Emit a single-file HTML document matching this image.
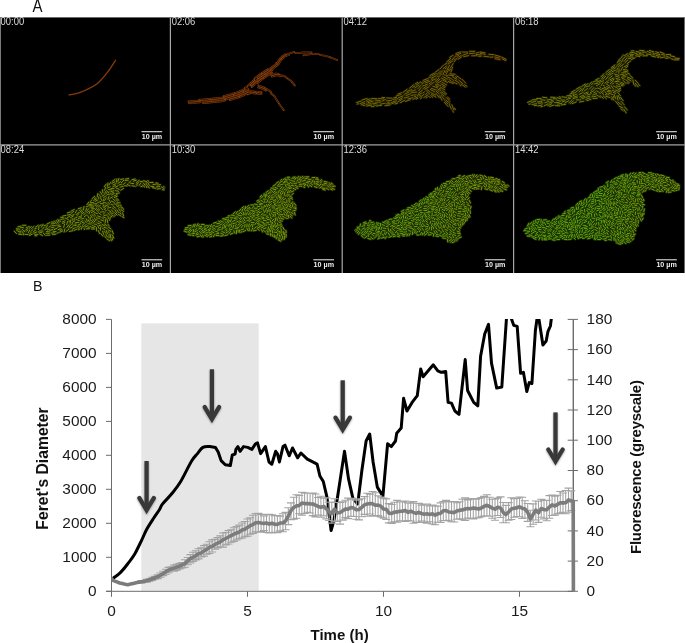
<!DOCTYPE html><html><head><meta charset="utf-8"><title>Figure</title>
<style>html,body{margin:0;padding:0;background:#fff;}svg{display:block;opacity:0.999;}text{font-family:"Liberation Sans",sans-serif;}</style></head><body>
<svg width="685" height="643" viewBox="0 0 685 643">
<rect x="0" y="0" width="685" height="643" fill="#fff"/>
<text transform="translate(32.5,12.2) scale(0.85,1)" font-size="17.6" fill="#111">A</text>
<rect x="0" y="17.3" width="685" height="255.7" fill="#000"/>
<g id="col3" fill="none" stroke-linecap="round">
<path d="M355.8,101.9C357.1,100.9 360.6,99.4 364.6,98.6C368.6,97.9 375.1,97.5 379.7,97.4C384.3,97.2 388.7,98.8 392.2,97.9C395.8,96.9 397.2,94.2 401.0,91.8C404.8,89.4 410.4,86.0 414.8,83.5C419.2,81.1 423.2,79.8 427.4,77.3C431.6,74.8 436.8,71.0 439.9,68.5C443.1,66.0 444.5,64.3 446.2,62.2C447.9,60.1 447.7,57.7 450.0,55.9C452.3,54.2 456.2,52.5 460.0,51.7C463.8,50.8 468.0,50.7 472.6,50.9C477.2,51.1 483.0,52.1 487.6,52.9C492.2,53.7 496.9,54.9 500.2,55.9C503.5,57.0 506.2,58.3 507.2,59.2C508.3,60.0 508.9,61.1 506.5,60.9C504.0,60.8 497.5,59.2 492.7,58.4C487.8,57.7 482.2,56.8 477.6,56.4C473.0,56.1 468.6,55.8 465.0,56.4C461.5,57.0 458.3,58.6 456.2,60.2C454.2,61.8 452.9,63.9 452.5,66.0C452.1,68.1 452.5,70.9 453.7,72.7C455.0,74.6 458.1,75.8 460.0,77.3C461.9,78.8 463.8,80.3 465.0,81.8C466.3,83.2 467.5,85.0 467.5,86.1C467.5,87.1 466.9,88.2 465.0,87.8C463.2,87.4 458.8,84.3 456.2,83.5C453.7,82.8 451.9,82.7 450.0,83.5C448.0,84.4 444.7,86.3 444.4,88.6C444.2,90.9 446.7,93.6 448.7,97.4C450.7,101.1 455.4,108.6 456.2,111.2C457.1,113.8 455.6,114.2 453.7,112.9C451.9,111.7 447.5,106.2 444.9,103.6C442.4,101.0 441.2,98.4 438.7,97.4C436.2,96.3 433.4,97.1 429.9,97.4C426.3,97.6 421.9,98.3 417.3,99.1C412.7,99.9 407.3,101.2 402.3,102.4C397.2,103.5 392.6,105.4 387.2,106.1C381.8,106.9 374.6,107.2 369.6,106.9C364.6,106.6 359.4,105.2 357.1,104.4C354.8,103.5 354.6,102.8 355.8,101.9Z" fill="#161201" stroke="#000" stroke-width="2.6"/>
<defs>
<path id="r3_0" d="M411.6,92.7L416.8,92.0M443.1,68.9L446.9,65.5M423.9,81.8L428.8,80.0M378.5,98.6L383.7,98.9M375.3,102.2L380.5,102.1M365.9,104.2L371.1,103.8M360.1,103.8L364.8,101.6M431.7,80.9L436.3,78.5M398.5,97.7L403.3,95.8M416.4,84.9L420.6,81.9M422.6,86.1L427.5,84.1M432.8,86.1L437.6,88.0M386.7,97.9L391.9,98.2M376.4,106.0L381.6,105.4M392.6,99.3L397.8,98.9M451.9,104.9L453.8,109.7M418.2,93.3L422.4,90.2M429.9,75.6L434.4,73.0M407.9,99.0L412.9,97.6M362.2,99.9L367.1,98.5M404.1,98.1L409.1,96.7M405.9,95.6L410.7,93.7M412.9,99.4L417.6,97.0M417.2,95.5L421.8,92.9M386.4,100.8L391.5,100.4M406.9,91.5L411.7,89.5M409.5,88.2L413.5,84.9M375.2,100.0L380.3,100.7M366.7,101.9L371.5,99.9M462.7,55.3L467.5,53.4M391.3,102.6L396.1,100.6M442.9,74.9L445.0,70.2M380.1,104.2L385.2,103.2M410.9,91.5L415.8,89.8M391.6,103.9L396.4,101.9M414.7,87.9L419.1,85.1M448.2,64.0L452.5,61.2M403.0,92.4L407.1,89.3M444.5,102.5L448.1,106.4M372.1,103.0L377.2,104.0M404.3,94.2L409.1,92.1M366.6,106.1L371.7,105.1M423.8,97.4L428.3,94.7M397.8,101.9L402.3,99.3M440.2,86.9L444.6,89.7M405.5,101.4L410.4,99.7M424.6,89.1L429.2,86.7M371.8,98.5L377.0,98.7M356.5,102.5L361.4,101.0M441.3,91.8L445.6,94.8M437.2,83.4L441.7,80.8M431.6,94.6L436.1,97.2M368.3,102.6L373.3,101.0M418.8,90.7L421.1,87.5M366.4,100.3L370.1,98.7M399.0,99.7L402.4,97.7M361.2,105.0L364.8,103.2M426.9,89.4L429.9,92.0M435.5,72.0L438.8,69.7M415.2,83.9L417.6,82.4M429.0,83.9L431.3,82.4M381.9,97.5L384.7,97.6M412.6,87.3L414.9,85.8M395.1,104.0L397.7,103.1M464.7,84.7L467.0,86.4M371.2,106.6L374.0,106.6M393.8,97.8L396.6,97.3M419.0,96.0L420.5,95.2M423.0,93.0L424.4,92.0M420.6,98.6L422.0,97.5M363.2,105.6L364.9,105.4M429.0,77.6L430.6,77.0M373.6,104.8L375.2,105.4M425.7,94.3L427.0,93.3M426.0,97.9L427.4,97.0M421.1,83.1L422.4,82.1M357.1,104.2L358.7,103.6"/>
<path id="r3_1" d="M400.2,102.7L404.8,100.3M450.0,73.7L455.1,74.3M441.3,78.1L446.0,80.3M425.7,90.3L429.5,93.8M431.4,88.4L436.3,90.0M446.9,61.8L450.7,58.4M449.2,104.4L451.4,109.1M429.7,85.4L433.9,82.3M439.6,95.8L442.1,100.3M431.0,92.7L435.7,95.1M454.1,61.8L457.4,57.8M440.3,92.6L444.1,96.1M425.2,83.0L430.1,81.2M438.3,77.2L442.1,73.5M432.0,76.1L436.4,73.3M417.6,88.9L421.2,85.1M448.6,75.0L453.7,75.7M442.6,90.4L446.5,93.8M446.7,76.6L451.4,78.8M430.3,89.5L434.9,91.9M419.9,97.3L424.1,94.3M396.1,96.1L401.1,94.5M458.8,80.3L462.8,83.6M441.1,95.3L444.3,99.4M446.1,97.5L449.8,101.2M431.4,78.2L436.1,75.9M439.3,74.3L442.9,70.6M435.6,84.5L440.7,85.4M422.8,88.7L427.1,85.8M469.6,51.3L474.8,51.3M385.0,105.7L390.1,105.0M437.1,74.6L440.7,70.8M442.9,80.3L447.6,82.5M411.0,95.4L416.1,94.7M461.1,84.1L465.4,87.1M423.2,80.4L428.0,78.5M451.9,60.0L455.5,56.2M436.1,82.5L440.1,79.1M436.2,93.5L439.2,97.7M448.4,81.6L453.2,83.5M434.9,81.6L438.9,78.3M436.2,91.3L439.2,94.0M444.8,101.0L447.7,103.7M397.8,94.2L401.5,92.7M381.9,101.2L385.5,99.5M449.7,57.4L453.1,55.3M386.3,103.9L390.3,103.7M430.6,95.5L432.8,97.3M448.9,79.5L451.2,81.2M444.6,75.1L447.3,75.3M444.6,64.5L447.0,63.2M435.8,85.8L438.4,86.7M438.0,89.3L440.5,90.5M442.5,86.3L444.9,87.7M422.2,84.0L423.5,83.0M387.8,102.4L389.5,102.1M449.6,70.8L450.4,69.3M414.2,96.8L415.8,96.3M445.5,68.5L446.8,67.5M416.2,99.1L417.8,98.4M454.6,108.2L455.3,109.7M439.4,88.4L441.0,89.0M455.4,76.6L456.7,77.6M431.6,79.5L433.1,78.8M445.5,72.4L446.3,70.9M437.7,90.7L439.1,91.7"/>
<path id="r3_2" d="M456.7,75.9L461.0,78.9M455.7,55.0L460.7,53.5M462.6,52.1L467.8,52.1M442.2,82.4L446.7,85.0M469.3,53.6L474.5,53.2M446.5,73.5L449.0,69.0M471.7,55.8L476.9,55.7M439.9,69.0L443.5,65.2M488.9,54.3L494.1,54.7M476.0,54.4L481.2,54.9M442.9,76.7L447.5,79.1M452.4,81.7L457.1,83.8M450.4,68.0L453.2,63.6M455.1,80.1L459.3,83.2M480.2,52.0L485.3,52.9M450.9,72.2L452.5,67.3M447.1,69.9L449.5,65.3M455.9,53.4L460.9,51.9M440.9,83.7L445.3,86.4M452.5,76.8L457.0,79.4M445.9,100.1L449.9,103.4M458.1,59.2L461.5,57.0M490.2,57.2L493.0,57.0M458.8,57.0L461.2,55.5M476.2,53.1L478.8,52.3M448.5,62.1L450.8,60.6M452.7,110.6L453.4,112.2M453.7,60.0L454.9,58.8M452.6,79.4L453.8,80.6M456.9,56.2L458.5,55.6M436.8,77.0L437.9,75.8M459.7,84.8L461.1,85.7M428.7,96.5L430.2,97.3"/>
<path id="r3_3" d="M483.8,56.3L488.9,56.8M463.7,56.6L468.8,55.6M480.0,53.2L485.1,54.4M462.2,79.4L465.7,83.1M495.3,55.1L500.3,56.6M502.2,58.8L505.7,60.7M478.6,56.3L481.4,56.2M447.6,97.2L449.7,99.1"/>
<path id="r3_4" d="M494.8,56.9L499.9,58.1M501.6,57.1L506.2,59.4M494.9,58.7L500.0,59.7"/>
</defs>
<use href="#r3_0" stroke="#1a1801" stroke-width="2.45"/>
<use href="#r3_1" stroke="#1b1701" stroke-width="2.45"/>
<use href="#r3_2" stroke="#1c1601" stroke-width="2.45"/>
<use href="#r3_3" stroke="#1c1601" stroke-width="2.45"/>
<use href="#r3_4" stroke="#1d1501" stroke-width="2.45"/>
<use href="#r3_0" stroke="#827606" stroke-width="0.85"/>
<use href="#r3_1" stroke="#867206" stroke-width="0.85"/>
<use href="#r3_2" stroke="#8a6f06" stroke-width="0.85"/>
<use href="#r3_3" stroke="#8e6c06" stroke-width="0.85"/>
<use href="#r3_4" stroke="#926806" stroke-width="0.85"/>
</g>
<g id="col4" fill="none" stroke-linecap="round">
<path d="M527.6,102.4C528.4,101.3 531.7,99.5 534.3,98.6C536.9,97.7 539.6,97.1 543.1,96.8C546.7,96.6 551.7,97.6 555.7,97.4C559.7,97.1 564.1,96.5 567.0,95.3C569.9,94.2 570.1,92.3 573.3,90.3C576.4,88.4 581.6,85.5 585.8,83.5C590.0,81.6 594.8,80.6 598.4,78.5C601.9,76.4 604.2,73.5 607.2,71.0C610.1,68.5 613.6,66.0 615.9,63.5C618.3,60.9 618.5,58.0 621.0,55.9C623.5,53.8 627.2,51.9 631.0,50.9C634.8,49.9 639.0,49.6 643.6,49.6C648.2,49.7 654.0,50.6 658.6,51.4C663.2,52.2 667.6,53.0 671.2,54.2C674.7,55.3 678.7,57.3 680.0,58.4C681.2,59.6 681.0,60.9 678.7,60.9C676.4,60.9 670.8,59.1 666.2,58.4C661.6,57.7 655.7,56.9 651.1,56.7C646.5,56.5 642.0,56.3 638.5,57.2C635.1,58.0 632.4,60.0 630.5,61.7C628.6,63.4 627.4,65.3 627.2,67.2C627.1,69.2 628.3,71.4 629.8,73.5C631.2,75.6 634.3,77.7 636.0,79.8C637.8,81.9 639.9,84.6 640.3,86.1C640.7,87.5 640.1,89.1 638.5,88.6C637.0,88.0 633.5,83.2 631.0,82.8C628.5,82.4 625.4,84.5 623.5,86.1C621.6,87.6 619.7,89.8 619.7,92.3C619.7,94.8 622.0,98.0 623.5,101.1C624.9,104.3 628.1,109.1 628.5,111.2C628.9,113.3 627.7,114.5 626.0,113.7C624.3,112.8 620.8,108.4 618.5,106.1C616.2,103.8 615.1,101.2 612.2,99.9C609.3,98.5 605.3,97.6 600.9,97.9C596.5,98.1 590.8,100.1 585.8,101.1C580.8,102.2 575.8,103.2 570.8,104.1C565.7,105.1 560.7,106.2 555.7,106.6C550.7,107.1 545.0,107.2 540.6,106.9C536.2,106.6 531.5,105.6 529.3,104.9C527.1,104.1 526.7,103.4 527.6,102.4Z" fill="#161601" stroke="#000" stroke-width="2.6"/>
<defs>
<path id="r4_0" d="M589.3,89.2L592.4,86.1M612.2,71.6L616.3,70.0M576.4,89.1L580.2,86.9M606.1,83.8L609.7,86.3M593.0,98.6L597.4,98.2M611.7,96.6L614.1,100.3M564.8,103.1L568.6,100.8M585.9,97.4L590.1,96.1M590.9,90.8L593.9,87.5M620.5,97.3L623.2,100.8M597.5,88.0L601.5,89.7M537.8,106.0L542.1,104.9M594.0,84.0L598.3,83.1M557.5,104.1L561.8,103.4M592.6,95.1L596.7,93.5M601.4,78.9L604.1,75.5M628.7,56.8L633.1,57.3M572.2,103.6L576.3,101.9M580.9,97.8L585.1,96.2M549.3,103.0L553.4,101.5M555.2,105.6L559.6,105.8M570.0,94.0L574.2,92.5M532.1,104.5L536.5,103.7M600.5,91.7L603.8,94.6M576.4,99.9L580.8,99.8M584.0,93.7L588.0,91.8M614.2,94.6L615.8,98.7M596.8,90.8L600.3,93.4M608.7,78.7L612.2,76.0M585.6,86.9L589.8,85.8M544.8,102.7L549.0,101.4M615.9,78.2L620.1,79.6M557.2,97.6L561.3,99.1M531.5,102.4L535.7,101.3M579.2,92.1L582.0,88.7M562.1,96.8L566.4,97.4M585.8,99.5L589.9,97.8M613.5,86.0L617.4,88.1M610.3,81.2L614.2,79.2M568.8,102.7L572.1,99.8M542.6,97.2L546.9,97.8M584.1,91.0L587.7,88.5M549.7,106.4L553.9,105.1M591.9,96.9L596.2,96.2M587.2,95.1L591.4,93.7M596.4,85.8L600.2,83.6M627.3,77.0L631.3,78.9M573.1,98.6L577.4,97.6M584.4,86.1L588.1,83.7M609.8,79.8L613.8,77.9M579.1,94.4L583.1,92.5M581.7,86.4L585.3,83.9M579.5,102.1L583.8,101.2M537.3,101.9L541.7,101.6M550.7,97.2L555.1,97.4M532.5,99.8L536.9,99.7M570.1,103.7L573.4,100.8M579.8,96.7L583.9,95.1M554.7,102.6L559.1,102.5M566.8,95.9L571.2,95.3M547.7,105.6L551.7,103.7M571.4,92.1L575.3,90.1M561.2,105.0L565.6,104.3M607.7,75.0L611.3,72.5M575.4,92.5L578.8,89.7M603.2,95.8L606.4,98.7M608.6,93.2L612.8,94.6M596.8,82.1L600.9,80.4M553.2,98.7L556.6,98.9M568.3,97.4L571.6,96.5M562.3,101.9L565.5,100.8M589.3,84.4L591.8,82.1M595.9,79.6L599.1,78.5M622.2,78.6L624.6,79.2M582.4,98.7L584.7,97.8M602.9,90.1L605.1,91.3M593.7,92.7L596.0,91.8M561.8,100.3L564.3,99.8M534.2,105.6L536.7,105.3M585.9,94.2L588.2,93.2M607.2,82.9L608.7,82.2M594.8,89.0L596.3,88.5M572.9,94.5L574.3,93.8M591.5,84.4L592.8,83.5M599.7,86.9L600.9,88.0M579.8,88.9L581.0,87.9"/>
<path id="r4_1" d="M540.8,99.9L545.1,100.2M604.9,83.1L608.4,80.4M605.6,79.6L608.4,76.2M629.7,75.2L632.9,78.2M621.7,72.8L626.1,72.9M607.2,91.6L611.6,92.0M572.9,95.8L576.9,94.0M624.4,106.7L627.3,110.0M556.6,100.2L560.8,101.2M623.1,80.4L626.1,83.6M618.8,73.3L619.2,68.9M617.3,62.9L619.5,59.1M601.0,85.8L603.4,82.1M617.0,95.9L618.0,100.2M593.1,81.9L597.3,80.4M646.4,54.0L650.8,54.6M602.8,79.5L605.7,76.2M615.3,76.0L619.5,77.3M616.6,65.7L620.0,62.9M614.9,81.4L619.3,81.7M547.1,100.0L551.4,99.2M590.4,92.6L594.2,90.4M573.1,97.3L577.3,96.0M614.6,74.1L618.8,75.4M615.9,83.0L619.8,85.0M618.9,106.0L622.8,107.9M536.7,98.5L541.1,98.5M622.0,59.7L625.4,56.8M610.9,69.3L614.5,66.8M608.5,72.5L612.2,70.0M625.9,79.8L629.4,82.6M615.5,89.9L619.5,91.6M600.0,95.5L603.4,98.3M605.5,92.6L609.1,95.1M623.7,109.2L626.2,112.9M616.3,85.8L620.6,86.9M566.4,99.3L570.7,98.3M636.1,51.4L640.4,52.4M538.4,103.3L542.8,102.9M604.1,87.4L608.3,88.8M605.9,72.4L609.3,69.6M609.5,75.3L613.4,73.1M623.6,71.1L627.9,71.9M618.1,66.6L621.2,63.5M624.2,66.8L628.1,64.8M605.8,96.3L610.0,97.5M620.0,83.5L624.1,85.1M602.4,88.4L606.6,89.7M651.3,55.9L655.5,57.0M586.9,100.7L591.0,99.3M620.7,58.3L623.4,54.9M611.1,85.6L613.6,89.1M527.6,102.4L531.7,100.7M581.9,91.2L584.4,87.5M600.8,76.9L603.9,73.8M596.7,94.9L600.3,97.4M599.5,82.4L603.5,80.6M620.1,74.8L623.5,74.2M624.5,55.6L627.4,53.8M620.8,82.3L623.9,83.6M613.4,69.2L616.2,67.3M621.1,62.0L623.1,60.5M550.8,100.9L553.1,100.1M612.0,84.5L614.0,83.0M616.1,72.5L617.8,70.6M618.1,89.5L620.5,90.3M625.6,67.9L627.6,66.5M628.2,58.3L630.7,58.6M630.5,55.6L632.9,55.8M613.2,92.4L615.5,93.4M601.9,91.2L603.2,92.0M603.2,85.2L604.6,86.0M606.2,74.6L607.2,73.3M616.7,79.9L618.2,80.3M528.9,104.2L530.5,104.0M540.9,106.8L542.4,106.3M613.5,96.1L613.9,97.7M621.4,85.4L622.8,86.0M605.5,94.5L606.9,95.2M634.6,85.3L635.9,86.2M617.3,69.3L618.0,67.8"/>
<path id="r4_2" d="M623.5,69.5L627.8,70.2M631.2,59.7L635.1,57.8M632.9,80.0L633.7,84.3M629.0,54.1L633.4,54.5M612.1,90.3L616.2,92.0M620.0,66.8L623.5,64.2M621.5,77.3L625.9,76.7M660.6,57.8L664.9,56.9M630.0,52.8L634.4,52.3M627.0,63.7L630.6,61.1M666.4,56.1L670.3,58.1M624.8,62.9L628.0,59.8M643.0,55.9L647.4,55.7M622.8,75.8L627.0,74.5M618.1,102.1L621.5,104.9M627.3,78.6L631.0,81.0M624.1,61.4L626.9,58.0M610.1,83.8L613.5,81.0M621.2,101.5L624.2,104.8M620.6,70.9L622.8,67.1M639.7,50.4L644.1,50.7M635.2,80.2L638.2,83.4M544.1,105.9L548.0,103.8M635.4,83.4L638.2,86.8M618.2,95.5L620.1,99.4M647.3,51.3L651.2,53.2M635.5,55.8L639.8,56.6M611.4,67.4L615.0,64.9M606.7,86.7L610.8,88.2M615.6,101.3L618.4,104.6M617.6,92.3L620.4,95.8M620.7,108.4L623.1,110.7M634.7,53.6L637.2,53.2M631.2,51.0L633.7,50.7M607.9,90.3L610.4,90.6M611.3,98.5L612.2,99.8M626.8,56.2L628.2,55.5M638.5,84.6L639.9,85.5M619.0,88.4L620.6,88.7M657.3,57.1L658.8,57.5M652.9,54.7L654.5,54.8M559.3,96.8L560.8,97.3M627.8,73.6L629.4,73.8M627.1,82.5L628.2,83.7"/>
<path id="r4_3" d="M636.8,54.6L641.2,55.3M649.5,50.5L653.7,51.8M656.0,55.5L660.3,56.3M641.9,52.1L646.3,52.1M660.1,52.0L664.2,53.6M655.6,53.6L659.9,54.6M674.9,58.2L679.3,58.4M666.1,54.6L670.5,54.5M639.3,53.6L643.6,54.3M674.4,59.9L678.8,59.8M655.7,51.8L658.9,52.8M661.6,54.5L664.9,55.2M665.3,58.1L667.8,58.3M619.7,61.4L620.5,60.1M652.8,52.9L654.3,53.4"/>
<path id="r4_4" d="M670.3,55.8L674.6,56.8M671.7,59.0L673.3,59.3"/>
</defs>
<use href="#r4_0" stroke="#1a1c02" stroke-width="2.45"/>
<use href="#r4_1" stroke="#1b1c02" stroke-width="2.45"/>
<use href="#r4_2" stroke="#1c1b02" stroke-width="2.45"/>
<use href="#r4_3" stroke="#1d1a02" stroke-width="2.45"/>
<use href="#r4_4" stroke="#1e1a02" stroke-width="2.45"/>
<use href="#r4_0" stroke="#808c08" stroke-width="0.85"/>
<use href="#r4_1" stroke="#858a08" stroke-width="0.85"/>
<use href="#r4_2" stroke="#8a8708" stroke-width="0.85"/>
<use href="#r4_3" stroke="#8f8408" stroke-width="0.85"/>
<use href="#r4_4" stroke="#948208" stroke-width="0.85"/>
</g>
<g id="col5" fill="none" stroke-linecap="round">
<path d="M13.1,231.6C13.5,230.6 14.5,228.5 16.3,227.4C18.1,226.2 20.7,225.1 23.9,224.8C27.0,224.6 31.2,226.1 35.2,225.9C39.1,225.6 43.9,224.5 47.7,223.3C51.5,222.2 54.0,221.2 57.8,219.1C61.5,217.0 66.1,212.9 70.3,210.8C74.5,208.7 79.3,208.5 82.9,206.5C86.4,204.6 88.7,201.7 91.6,199.0C94.6,196.3 97.9,192.8 100.4,190.2C102.9,187.6 104.0,185.1 106.7,183.2C109.4,181.2 112.8,179.2 116.8,178.4C120.7,177.6 125.8,178.1 130.6,178.4C135.4,178.7 141.0,179.4 145.6,180.2C150.2,180.9 154.9,182.0 158.2,183.2C161.5,184.3 164.2,186.0 165.2,187.2C166.3,188.4 166.5,189.9 164.5,190.2C162.5,190.5 157.1,189.6 153.2,188.9C149.2,188.3 145.0,186.8 140.6,186.4C136.2,186.0 130.2,185.6 126.8,186.4C123.4,187.3 121.5,189.6 120.0,191.5C118.6,193.3 117.7,195.4 118.0,197.7C118.3,200.0 120.7,202.8 121.8,205.3C122.9,207.7 124.4,210.2 124.8,212.3C125.2,214.4 125.4,217.3 124.3,217.8C123.2,218.3 120.1,215.3 118.0,215.3C115.9,215.3 113.5,216.5 111.7,217.8C110.0,219.2 107.3,221.0 107.5,223.3C107.7,225.6 111.9,229.0 113.0,231.6C114.1,234.3 114.7,237.5 114.2,239.2C113.8,240.8 112.6,242.3 110.5,241.7C108.4,241.0 104.4,237.5 101.7,235.4C99.0,233.3 97.7,230.0 94.2,229.1C90.6,228.2 85.2,229.3 80.4,229.9C75.5,230.4 70.3,231.5 65.3,232.4C60.3,233.3 55.7,234.8 50.2,235.4C44.8,236.0 37.7,235.9 32.6,235.9C27.6,235.9 23.2,235.8 20.1,235.4C16.9,235.0 15.0,234.0 13.8,233.4C12.6,232.8 12.6,232.6 13.1,231.6Z" fill="#171a02" stroke="#000" stroke-width="2.6"/>
<defs>
<path id="r5_0" d="M18.1,231.5L21.4,231.0M100.9,233.6L102.9,236.2M28.3,232.8L29.8,229.8M89.0,213.8L90.2,210.7M84.8,220.5L87.1,222.8M46.6,235.3L49.9,235.1M59.7,232.3L62.6,230.9M75.2,213.0L76.9,210.2M81.3,214.2L84.0,212.3M91.7,214.1L94.0,216.5M45.9,227.9L47.6,225.1M66.0,231.4L68.7,229.4M74.0,230.4L77.1,229.1M51.3,223.9L54.6,223.6M104.6,200.6L106.3,197.7M34.7,234.3L38.0,234.4M90.2,202.8L93.5,202.5M103.1,214.3L105.5,212.1M76.3,219.5L79.4,220.7M38.5,229.7L39.0,226.4M20.3,227.7L23.6,227.7M63.7,227.4L64.5,224.2M78.1,224.9L81.1,223.6M22.7,231.7L23.5,234.9M108.1,229.8L111.0,231.4M78.2,228.4L80.7,226.2M86.2,228.9L89.5,228.7M92.4,225.6L95.5,226.6M72.3,229.2L75.3,227.7M73.0,225.1L76.3,225.5M75.4,222.7L78.7,222.4M44.9,229.8L47.9,228.4M31.5,228.7L33.9,226.4M65.3,218.1L68.3,219.5M33.1,232.0L35.7,230.0M104.0,227.4L107.2,228.2M86.8,211.2L88.8,208.6M76.2,214.6L78.5,212.3M70.1,223.4L70.7,220.1M105.5,219.6L105.3,222.9M25.0,230.4L27.8,228.5M84.3,216.7L86.9,214.7M39.7,230.8L43.0,231.2M49.6,230.7L52.7,229.5M78.5,218.6L81.5,217.2M56.3,220.5L58.1,223.2M91.3,212.5L94.3,211.1M69.5,231.4L72.7,230.7M98.4,221.2L101.3,222.7M45.8,233.2L49.1,233.4M97.6,211.6L100.0,209.4M67.4,212.9L70.5,211.9M41.4,227.2L43.0,224.3M22.6,225.3L25.9,225.3M66.7,224.5L67.7,221.4M80.8,219.2L84.0,218.2M93.6,200.4L96.6,198.9M52.9,231.2L56.2,231.7M85.4,211.3L86.7,208.2M83.5,209.7L84.0,206.4M66.8,227.5L68.8,224.8M68.8,228.0L70.4,225.1M62.2,222.1L65.2,220.7M60.9,219.4L64.2,218.9M86.9,204.7L88.8,202.1M46.5,231.5L49.8,232.0M74.0,218.5L77.0,217.2M92.2,198.5L94.7,196.3M58.0,229.7L61.1,228.6M64.1,232.0L64.9,228.8M16.4,228.7L19.7,229.2M29.3,235.5L32.3,234.2M42.0,229.5L44.2,227.1M81.4,229.2L82.3,226.0M54.1,229.7L57.0,228.2M39.6,233.9L42.5,235.6M71.9,222.6L74.8,221.0M26.3,227.7L29.4,226.5M78.6,217.0L81.7,215.7M24.8,234.3L28.1,234.5M104.0,215.5L107.3,214.9M93.6,203.9L96.9,203.6M98.4,230.5L99.5,233.6M18.5,234.1L21.8,234.5M71.4,210.9L74.3,209.5M78.3,208.7L81.5,207.8M35.6,227.1L38.3,225.2M76.8,215.8L79.2,213.5M85.0,227.1L88.0,225.7M83.5,226.5L86.2,224.6M54.4,221.1L56.3,223.7M91.5,229.0L94.8,229.0M83.5,215.0L85.8,212.7M71.1,213.4L73.7,211.3M17.8,226.9L21.0,226.1M57.8,219.4L59.2,222.3M100.4,207.1L102.5,209.6M98.5,212.7L101.1,214.7M104.6,190.2L105.7,187.1M46.9,224.0L49.9,222.6M80.2,222.3L82.9,220.5M70.2,228.2L73.0,226.5M33.8,233.2L36.9,231.9M22.4,229.4L24.7,231.8M51.1,233.1L54.4,232.8M49.0,227.3L50.8,225.5M47.4,230.0L49.9,229.2M62.5,223.5L64.9,222.5M76.8,227.2L79.0,225.9M71.6,215.4L74.1,214.6M112.0,237.4L112.5,239.9M29.3,228.3L31.3,226.7M59.8,230.7L62.1,229.6M94.0,224.0L96.6,224.4M81.1,212.7L83.0,210.9M60.7,217.3L63.3,217.5M72.2,220.4L72.2,218.5M87.4,212.6L88.7,211.1M26.6,231.2L28.0,229.9M29.6,233.9L31.2,232.9M51.6,222.0L53.5,222.1M34.7,228.9L36.4,228.2M57.1,233.3L58.3,232.7M73.5,220.0L74.8,219.7M94.5,198.6L95.6,197.9M74.9,224.0L76.2,224.1M91.7,210.5L92.9,210.1M82.4,222.4L83.6,222.2M39.9,225.4L41.2,225.0M19.6,232.9L20.9,232.9"/>
<path id="r5_1" d="M96.4,217.8L99.7,218.4M111.9,183.3L114.9,181.9M114.4,197.5L117.4,196.1M109.1,234.5L109.0,237.8M121.4,182.7L123.7,180.3M56.7,225.2L60.0,225.1M91.5,220.3L93.6,222.8M109.8,198.4L112.7,196.8M88.1,219.6L89.7,222.5M120.8,205.0L121.3,208.3M107.1,219.4L107.8,222.7M97.7,202.5L100.9,201.5M51.0,227.2L54.2,228.0M110.7,191.8L113.8,190.7M110.8,234.3L110.3,237.6M107.9,199.3L109.0,196.2M109.1,199.7L110.6,202.6M107.8,202.1L110.0,204.6M100.7,219.8L103.8,221.0M105.3,205.0L108.3,206.4M103.0,192.9L102.4,189.7M90.3,217.3L90.1,220.6M96.1,207.1L98.6,204.9M107.7,208.1L110.9,207.3M98.8,225.4L102.0,226.2M107.2,194.6L110.5,193.9M111.4,195.0L114.3,193.5M97.2,196.8L97.8,193.5M110.3,217.0L109.7,220.3M108.3,227.1L111.0,228.9M113.2,206.4L115.9,208.3M67.4,215.0L70.6,214.6M79.8,212.3L82.0,209.8M90.6,205.6L93.9,206.1M96.5,210.6L99.0,208.4M106.2,230.6L107.4,233.7M30.6,231.8L33.0,229.5M112.9,198.9L115.4,201.1M104.7,193.2L106.5,190.5M38.4,231.9L41.6,232.6M108.6,189.5L111.8,190.0M102.8,206.7L105.5,208.5M96.5,227.6L96.6,230.9M57.7,227.0L60.9,226.4M94.3,212.6L97.4,213.7M109.8,212.8L113.0,213.4M102.0,194.6L100.2,191.8M102.2,228.1L104.9,229.9M14.1,231.2L16.5,233.5M116.8,202.8L120.1,202.8M105.9,234.0L107.3,236.9M82.6,224.8L85.1,222.6M70.5,217.7L73.4,216.1M116.4,182.1L116.9,178.9M107.8,212.8L109.9,215.3M110.8,188.6L114.1,188.6M88.1,223.8L91.4,224.1M118.3,214.2L121.0,216.1M87.9,227.5L91.0,226.5M52.5,234.5L55.8,234.2M111.6,214.7L114.2,216.6M104.3,186.7L106.2,184.1M120.0,187.1L123.2,186.4M97.6,215.9L100.7,217.0M94.4,217.9L95.9,220.9M91.3,208.9L94.5,208.6M115.1,187.2L118.1,185.8M112.5,235.1L113.7,238.2M107.8,209.9L110.7,211.7M114.8,212.8L117.1,215.2M52.2,225.7L55.5,225.7M62.7,216.1L66.0,215.4M88.9,204.4L92.2,204.2M93.6,213.7L95.7,216.2M86.2,206.8L89.3,205.6M103.2,216.8L106.2,218.2M120.7,190.2L123.5,188.4M112.3,181.3L115.0,179.4M106.9,238.9L109.6,240.7M90.5,215.1L92.3,217.9M67.4,217.7L70.2,215.9M120.9,209.7L123.7,211.4M116.1,193.5L119.4,193.0M107.5,186.3L108.0,183.1M128.4,183.3L130.8,180.9M113.9,204.0L117.2,204.1M86.0,218.6L87.6,221.4M105.8,193.9L107.9,191.3M98.1,207.4L100.4,205.1M103.1,205.3L106.0,207.0M114.0,196.0L117.0,194.7M43.2,232.9L45.2,235.4M101.9,217.6L103.9,219.2M104.5,235.8L106.1,237.9M124.6,185.8L127.2,185.9M103.9,209.4L106.3,210.6M112.2,207.8L114.2,209.4M100.5,227.6L100.6,230.2M87.8,215.6L88.8,218.0M102.3,196.2L104.4,194.7M119.2,184.9L121.7,184.1M91.7,227.6L94.3,227.8M107.7,224.0L109.3,226.1M103.9,231.4L105.5,232.4M108.2,231.5L109.3,233.0M43.9,225.6L45.8,225.2M111.3,204.3L113.0,205.1M95.2,209.7L96.7,208.5M90.6,201.4L91.7,199.9M103.2,200.8L103.9,199.0M34.9,235.7L36.8,235.8M59.6,219.9L60.6,221.5M156.1,182.8L158.0,183.3M78.4,229.8L80.1,228.9M96.5,219.2L97.3,220.1M79.3,210.6L80.2,209.7M71.6,224.4L72.7,223.6M108.3,192.8L109.3,191.9M98.7,198.4L98.6,197.1M84.4,229.5L84.0,228.3M91.0,222.4L92.1,223.1M16.5,230.1L17.8,230.2M140.7,186.3L142.0,186.6M69.1,221.8L69.2,220.6M95.1,205.3L96.4,205.0"/>
<path id="r5_2" d="M100.5,212.0L103.8,211.8M115.3,190.6L118.5,191.3M125.0,180.5L128.3,180.3M130.5,183.2L133.7,183.6M112.7,186.9L115.6,185.3M101.9,200.4L100.2,197.7M109.0,185.0L110.8,182.2M118.6,208.6L120.4,211.3M111.4,201.0L114.3,202.5M122.8,184.8L125.3,182.7M136.1,184.4L138.8,182.5M101.2,196.9L99.0,194.5M102.6,231.3L103.6,234.4M150.6,186.3L153.9,186.6M115.1,210.2L116.9,213.0M127.2,184.4L130.1,185.9M116.2,188.1L119.2,189.4M133.3,181.1L136.4,180.2M97.6,225.7L99.2,228.6M100.4,203.5L103.7,203.9M116.5,205.8L119.4,207.3M111.3,209.7L113.5,212.2M97.0,222.8L100.1,224.0M103.6,197.6L106.3,195.7M117.8,183.6L120.5,181.7M131.9,185.7L135.1,186.4M95.1,201.4L98.0,199.9M92.8,219.3L94.8,221.9M147.5,185.1L149.1,188.0M116.8,209.8L118.7,212.5M122.6,212.8L123.6,216.0M104.5,224.0L107.2,225.9M112.2,230.7L113.3,233.8M103.2,202.3L106.4,203.1M125.5,179.1L128.7,178.4M116.5,198.2L118.9,200.3M89.8,207.0L93.1,207.4M117.8,181.7L118.9,178.6M113.0,184.9L116.0,183.6M102.2,224.4L105.0,226.0M108.0,216.1L108.3,218.7M115.8,199.5L117.7,201.2M122.3,216.7L124.0,217.7M122.6,207.6L123.5,209.3M110.7,239.0L111.4,240.8M147.7,180.7L148.8,181.3M107.4,203.9L108.2,205.0M114.3,214.7L115.3,215.4M111.2,216.0L111.9,217.1M118.0,205.1L119.3,205.2M136.6,185.8L137.6,184.9"/>
<path id="r5_3" d="M161.5,187.0L164.3,188.7M156.4,187.0L159.7,186.6M143.3,182.8L145.2,185.5M147.7,182.4L149.4,185.3M120.6,179.4L123.8,178.9M149.9,182.5L153.2,182.4M107.2,188.2L110.1,186.7M143.5,180.7L146.7,181.6M139.0,185.5L141.0,182.9M152.9,184.5L156.2,184.1M142.2,185.0L144.7,187.0M132.0,179.6L135.2,179.0M157.1,189.1L160.4,188.5M136.5,182.5L139.0,180.4M152.5,187.7L155.7,188.3M139.9,181.3L142.5,181.6M120.0,212.6L121.1,214.2M146.1,182.7L146.3,184.6M111.8,193.1L113.5,192.3M162.3,189.7L164.1,190.0M163.6,186.3L164.5,187.2M146.4,186.3L146.8,187.6"/>
<path id="r5_4" d="M157.2,185.0L160.5,184.7"/>
</defs>
<use href="#r5_0" stroke="#1a2102" stroke-width="2.45"/>
<use href="#r5_1" stroke="#1b2002" stroke-width="2.45"/>
<use href="#r5_2" stroke="#1c2002" stroke-width="2.45"/>
<use href="#r5_3" stroke="#1d2002" stroke-width="2.45"/>
<use href="#r5_4" stroke="#1e1f02" stroke-width="2.45"/>
<use href="#r5_0" stroke="#84a40c" stroke-width="0.85"/>
<use href="#r5_1" stroke="#89a20b" stroke-width="0.85"/>
<use href="#r5_2" stroke="#8ea00a" stroke-width="0.85"/>
<use href="#r5_3" stroke="#939e09" stroke-width="0.85"/>
<use href="#r5_4" stroke="#989c08" stroke-width="0.85"/>
</g>
<g id="col6" fill="none" stroke-linecap="round">
<path d="M182.3,231.6C181.9,230.1 183.8,227.2 186.1,225.9C188.4,224.5 192.3,223.5 196.1,223.3C199.9,223.2 204.7,225.4 208.7,224.8C212.6,224.3 216.2,222.1 220.0,220.3C223.7,218.5 227.3,216.4 231.3,214.1C235.2,211.7 240.1,208.2 243.8,206.5C247.6,204.8 250.9,205.9 253.9,204.0C256.8,202.1 258.5,197.9 261.4,195.2C264.3,192.5 268.9,190.0 271.4,187.7C273.9,185.4 273.7,183.2 276.5,181.4C279.2,179.6 283.6,177.8 287.8,176.9C291.9,176.0 296.8,175.8 301.6,175.9C306.4,176.0 312.0,176.7 316.6,177.6C321.2,178.6 325.9,179.9 329.2,181.4C332.5,182.9 335.4,185.0 336.2,186.4C337.1,187.9 336.2,189.6 334.2,190.2C332.2,190.8 327.9,190.7 324.2,190.2C320.4,189.7 315.8,187.6 311.6,187.2C307.4,186.8 302.1,186.8 299.1,187.7C296.0,188.6 294.6,190.6 293.5,192.7C292.5,194.8 292.3,197.9 292.8,200.2C293.3,202.5 295.9,204.2 296.5,206.5C297.2,208.8 297.4,212.1 296.5,214.1C295.7,216.0 293.6,217.5 291.5,218.3C289.4,219.2 285.8,218.2 284.0,219.1C282.2,219.9 280.6,221.5 281.0,223.3C281.4,225.2 285.6,227.9 286.5,230.4C287.4,232.8 287.5,235.9 286.5,237.9C285.5,239.9 282.7,242.6 280.2,242.4C277.7,242.2 275.0,238.7 271.4,236.6C267.9,234.6 263.1,231.2 258.9,230.4C254.7,229.5 250.9,230.9 246.3,231.6C241.7,232.4 236.3,234.1 231.3,234.9C226.2,235.7 221.6,236.2 216.2,236.6C210.8,237.1 203.2,237.7 198.6,237.4C194.0,237.1 191.3,235.9 188.6,234.9C185.9,233.9 182.7,233.1 182.3,231.6Z" fill="#1e2602" stroke="#000" stroke-width="2.6"/>
<defs>
<path id="r6_0" d="M218.0,228.2L220.7,227.1M250.8,204.9L253.7,205.0M250.5,210.9L253.4,210.2M266.1,223.0L268.9,222.2M194.7,231.8L197.4,230.6M225.0,230.3L227.1,228.4M201.6,231.8L204.3,232.8M204.3,229.3L206.8,230.7M228.7,233.7L230.6,231.5M251.9,208.6L253.8,206.4M233.4,223.6L236.2,222.8M264.5,212.5L263.5,209.7M239.0,211.1L241.0,209.0M216.8,223.7L219.6,223.3M225.4,227.8L226.2,225.0M232.7,221.4L235.4,220.2M250.0,226.6L251.7,224.2M279.3,210.4L281.6,212.1M244.1,217.1L246.6,218.5M239.1,220.9L241.8,222.1M253.9,228.8L256.1,226.9M217.4,230.1L220.3,229.7M208.0,229.7L210.6,228.3M194.5,227.1L195.2,224.3M229.1,230.1L232.0,229.4M248.8,221.6L251.4,220.2M215.9,233.9L218.8,233.5M263.5,230.4L265.8,232.2M243.2,218.0L244.6,220.6M241.2,227.7L243.0,225.3M184.2,231.1L186.9,232.2M261.2,200.3L263.5,202.1M227.3,221.6L228.5,219.0M206.2,234.5L209.0,235.4M249.7,230.5L249.0,227.6M277.3,185.9L280.1,186.3M221.9,231.5L224.5,232.6M200.0,234.5L201.7,236.9M193.1,232.4L193.7,229.5M252.5,214.1L255.0,212.7M223.9,228.3L224.5,225.5M238.0,225.0L240.3,223.2M246.8,226.8L247.1,223.9M258.9,212.9L261.5,211.8M260.5,198.1L262.9,196.4M244.6,227.3L245.1,224.4M230.2,222.0L231.4,219.4M211.4,231.3L213.9,232.8M211.9,226.5L214.6,225.4M188.9,229.2L191.1,227.3M248.3,214.7L250.1,212.4M263.4,220.4L266.3,220.7M195.8,235.1L198.5,234.0M225.8,217.9L228.6,217.2M230.4,217.8L233.3,217.8M272.7,228.7L275.2,230.1M199.0,227.0L201.8,226.3M265.3,206.8L266.8,204.3M267.0,213.0L267.5,210.2M200.8,230.0L203.1,228.2M278.7,202.9L281.2,201.4M240.8,230.0L243.6,229.0M269.8,212.0L270.5,209.2M248.3,226.4L249.6,223.8M258.0,209.7L260.6,208.4M185.3,227.9L188.2,227.4M260.9,216.9L263.7,217.4M257.1,228.5L259.3,230.4M264.1,225.2L267.0,225.0M188.1,234.6L190.9,235.3M243.3,231.7L245.8,230.3M243.3,215.1L243.4,212.2M251.5,230.9L252.7,228.3M233.1,213.9L235.3,211.9M246.0,215.2L247.3,212.6M287.4,196.5L289.2,194.2M187.9,231.2L189.8,233.4M260.7,221.8L263.5,222.5M223.8,219.9L226.7,219.4M232.9,228.1L233.7,225.3M229.3,227.1L227.5,224.8M192.6,227.1L193.8,224.4M196.6,226.3L197.9,223.7M274.4,224.7L275.5,227.4M209.3,233.9L212.0,235.1M235.7,226.9L238.6,227.5M243.0,223.4L245.6,222.0M212.8,227.7L215.3,229.2M220.7,220.9L223.3,222.2M279.2,234.6L280.2,237.3M249.6,215.1L251.6,213.0M188.2,225.7L191.1,225.4M248.9,211.5L246.4,210.0M254.7,204.0L257.5,204.9M295.1,185.2L297.6,186.7M254.3,208.2L257.2,208.2M278.6,221.7L281.1,223.2M282.8,201.8L285.6,202.4M261.0,215.0L263.2,213.3M209.2,232.2L211.9,233.3M213.5,223.2L216.3,222.3M231.8,227.0L230.7,224.3M215.4,227.0L218.2,226.0M238.7,217.8L240.8,219.8M272.3,230.1L272.6,233.0M207.5,227.6L209.2,225.2M238.6,215.6L241.5,215.7M220.3,236.0L223.1,235.7M190.0,231.7L192.3,229.9M256.6,220.7L259.0,222.3M267.3,206.9L268.6,204.3M261.9,209.3L262.0,206.4M252.6,212.0L255.3,210.8M248.3,230.8L246.9,228.2M252.4,227.0L253.1,224.1M239.3,229.7L239.9,232.6M224.7,235.6L227.5,234.9M274.2,204.4L276.7,205.8M212.1,229.0L214.4,230.8M230.4,234.3L233.1,233.1M258.4,218.2L261.2,219.2M225.9,233.1L228.3,231.5M246.7,207.5L248.7,205.4M219.5,225.3L222.0,223.8M202.5,230.5L205.2,231.6M195.0,230.2L197.0,228.2M251.2,222.4L254.1,222.5M228.1,223.0L229.4,220.4M236.1,214.0L237.4,211.5M234.5,218.5L237.3,219.1M222.0,229.9L222.4,227.0M246.8,220.7L249.5,219.7M239.2,226.3L241.5,224.5M252.9,215.3L255.2,215.0M184.9,229.6L187.1,229.3M205.7,233.1L208.0,232.6M242.0,211.5L242.5,209.3M202.7,234.8L203.2,237.1M255.1,218.1L257.3,217.6M197.1,236.8L199.3,236.4M264.1,195.9L264.1,193.6M240.5,217.2L242.0,218.9M256.9,201.0L259.0,199.9M208.4,231.0L210.4,229.9M266.7,196.0L266.8,193.7M189.3,230.7L190.9,229.1M218.5,221.1L220.5,222.2M236.9,221.3L239.0,222.3M204.3,227.9L206.4,228.8M271.2,213.4L272.5,214.6M244.9,214.5L245.2,212.8M242.1,207.7L243.6,206.8M196.2,233.4L197.8,232.6M226.7,223.1L225.5,221.7M235.1,225.7L236.4,224.4M257.3,223.7L259.1,223.7M198.2,226.0L199.4,224.6M266.2,216.4L267.9,215.9M209.8,236.9L211.6,236.6M228.2,215.9L230.0,215.8M262.4,218.7L264.2,218.7M257.2,213.9L258.9,214.6M238.1,230.4L238.2,232.1M222.6,218.9L224.3,218.4M276.2,208.4L278.0,208.6M273.1,225.4L273.8,227.1M229.6,225.3L229.2,224.1M268.7,211.0L269.1,209.8M281.5,191.5L280.8,190.4M284.6,211.8L285.7,212.4M232.0,224.1L231.9,222.8M241.3,232.4L242.0,231.3"/>
<path id="r6_1" d="M274.2,214.1L272.8,216.7M283.9,203.9L285.8,206.1M280.8,218.3L283.6,219.1M269.3,213.5L270.6,216.1M216.1,235.5L219.0,235.6M277.5,237.1L279.7,239.1M281.0,228.5L281.4,231.3M234.8,217.2L237.7,216.9M274.0,219.0L271.9,221.1M273.0,212.7L275.9,212.3M298.1,182.3L301.0,181.9M291.2,185.4L294.0,185.9M265.3,197.6L265.4,194.7M268.5,226.8L267.9,229.6M272.0,207.9L274.9,208.0M236.5,230.5L236.5,233.4M199.4,231.4L201.3,233.6M282.6,193.7L283.2,190.9M258.1,225.2L260.9,224.7M270.3,233.0L270.8,235.8M279.0,233.0L281.9,232.8M234.9,228.6L237.8,228.9M286.9,182.7L289.6,183.7M286.6,210.3L287.8,213.0M245.3,211.1L243.9,208.5M242.1,214.2L240.1,212.0M291.6,180.7L294.4,181.5M269.7,228.8L268.9,231.6M273.3,189.7L276.1,189.5M266.8,230.3L268.1,232.9M257.2,219.2L259.6,220.8M261.3,229.4L262.6,232.0M237.2,214.9L239.6,213.4M266.8,202.4L267.9,199.7M251.7,217.8L254.3,216.5M277.9,207.2L280.8,206.9M260.0,203.0L262.8,203.9M279.3,209.0L282.2,209.4M278.2,192.6L279.5,190.0M204.5,226.2L207.3,225.5M275.6,218.0L275.5,220.9M191.6,233.9L194.5,233.5M270.3,189.7L272.6,191.5M252.7,218.9L255.3,220.2M273.2,200.8L275.8,199.5M220.8,233.3L223.5,234.4M265.9,218.4L268.6,217.3M288.3,203.8L287.6,206.6M222.6,225.3L224.9,223.6M290.0,213.9L292.3,215.8M204.7,235.3L207.3,236.6M273.2,202.2L275.6,203.8M281.7,199.3L283.5,197.1M254.7,224.8L256.5,222.5M277.3,223.1L278.1,225.8M257.6,202.5L260.1,201.0M257.3,206.8L260.1,206.1M270.6,226.3L271.3,229.2M256.5,215.2L259.1,216.5M269.3,205.8L271.4,203.8M282.0,215.9L284.5,217.4M263.5,228.8L266.2,227.8M269.3,203.1L271.6,201.4M285.5,191.1L287.6,189.1M247.3,208.9L249.7,207.2M285.2,184.5L286.4,187.1M278.2,239.8L280.8,241.1M310.4,183.1L312.6,184.9M263.7,208.1L264.4,205.3M273.1,192.7L275.4,191.0M210.1,227.0L211.5,224.5M274.9,209.9L277.8,210.1M278.2,197.1L278.3,194.2M270.3,220.5L271.2,223.3M280.5,184.8L283.3,184.1M282.0,204.6L283.8,206.9M284.4,181.4L287.3,181.0M268.2,193.9L270.0,191.6M271.7,205.9L274.6,206.1M271.9,234.2L273.2,236.7M273.0,186.1L275.5,184.6M263.0,215.1L265.9,214.9M276.7,229.5L278.6,227.3M277.8,205.1L280.7,205.1M288.4,215.1L288.7,218.0M274.9,187.3L277.6,188.4M215.6,231.3L218.3,232.3M231.4,215.1L234.3,215.5M282.5,236.1L282.8,238.9M274.5,193.6L276.9,192.0M271.6,212.0L273.5,209.9M263.3,199.1L266.2,199.2M265.9,192.5L268.3,190.8M259.7,226.5L262.4,225.5M294.1,203.1L295.8,205.4M233.8,230.6L235.0,233.2M256.7,212.6L259.2,211.1M247.3,217.1L249.9,218.4M201.3,224.4L204.2,224.5M276.9,203.1L278.4,200.6M282.2,189.6L284.0,187.4M261.4,227.8L264.0,226.5M283.4,210.6L286.0,209.2M304.7,178.9L307.5,178.2M277.1,211.3L279.5,213.0M276.1,183.4L278.5,181.7M274.1,234.6L274.8,237.4M271.6,224.6L272.2,227.5M265.6,211.2L266.4,208.4M257.3,227.0L260.0,228.1M267.3,219.7L270.1,219.2M281.4,194.9L280.2,192.2M283.3,231.3L283.4,234.2M288.4,200.7L290.2,202.9M275.8,213.8L274.9,216.6M274.9,195.8L276.9,193.7M198.6,229.1L201.2,227.9M281.9,208.0L284.8,208.2M253.5,230.8L256.3,230.2M284.5,236.5L284.2,239.4M277.7,233.6L277.1,235.8M259.3,204.1L261.5,204.8M268.3,208.5L270.1,207.0M213.6,236.6L214.6,234.5M287.3,177.3L289.6,177.2M279.2,225.1L281.5,224.8M266.6,233.9L268.9,234.4M245.4,208.7L245.4,206.4M260.1,196.8L261.7,195.2M268.2,224.0L270.3,224.9M268.7,198.4L270.1,196.6M275.9,224.9L277.0,226.9M293.6,178.7L295.0,176.9M280.0,220.7L282.3,221.1M278.1,229.9L277.1,231.4M250.0,216.6L251.7,215.9M283.4,182.8L285.2,182.7M270.2,217.5L271.8,218.4M249.0,209.4L250.4,208.4M272.4,222.3L272.9,224.0M285.3,179.9L287.1,179.5M264.9,202.6L264.7,200.8M278.3,184.6L279.8,183.6M256.1,209.8L257.0,210.8M229.4,228.7L230.4,227.8M268.5,202.0L269.5,201.1M278.7,231.4L280.0,231.5M192.7,235.5L193.9,235.7M226.1,231.1L227.1,230.3M281.6,234.4L281.2,235.7M274.9,201.4L276.1,200.9M300.8,180.7L301.2,179.4M303.6,187.0L304.8,187.4M242.4,220.6L243.2,221.6M270.7,230.4L270.6,231.7M279.7,199.4L280.6,200.3"/>
<path id="r6_2" d="M291.0,192.0L293.6,190.8M293.5,207.8L296.2,208.8M279.8,182.4L282.4,181.1M267.9,197.2L269.8,195.0M287.9,178.6L290.3,180.3M292.7,201.8L291.0,204.1M314.4,186.6L317.2,187.6M286.7,199.9L287.0,202.8M288.8,188.7L291.6,187.9M293.0,188.2L295.6,189.6M288.1,209.0L290.9,209.5M299.6,179.8L300.5,177.0M307.1,184.6L308.5,187.1M271.4,197.4L274.3,197.0M324.2,181.5L327.1,182.0M294.7,179.9L296.2,177.5M273.9,232.1L276.8,232.6M289.7,198.1L292.4,199.2M285.4,196.1L287.5,194.2M307.3,181.2L310.1,181.5M299.3,184.3L302.2,184.2M296.9,181.3L298.5,179.0M322.0,188.1L324.9,188.3M283.8,213.1L285.2,215.6M279.3,198.1L280.0,195.3M285.0,232.4L284.5,235.2M282.9,227.3L284.3,229.8M275.8,236.0L276.4,238.8M288.9,192.8L290.5,190.4M290.8,212.2L293.3,213.8M270.2,199.2L273.1,199.1M280.3,188.8L282.3,186.7M293.7,183.3L296.6,183.2M302.5,181.1L305.3,180.3M315.8,181.9L318.6,181.0M302.5,178.8L304.5,176.7M279.8,214.3L282.7,214.5M291.4,195.3L293.3,193.2M291.5,178.9L293.5,176.8M303.3,183.4L304.7,185.9M277.1,213.0L278.8,215.3M309.3,185.0L311.7,186.6M288.3,198.4L290.0,200.7M278.3,216.8L279.8,219.3M322.1,184.7L325.0,185.1M283.2,179.8L285.6,178.1M277.5,199.1L276.1,196.5M289.9,215.8L291.7,218.1M274.1,220.9L275.4,223.5M319.7,187.9L322.2,186.3M286.1,234.3L286.0,237.2M289.3,206.5L291.8,207.9M294.4,212.2L295.2,215.0M293.0,203.8L292.4,206.6M289.5,196.1L292.1,197.4M282.9,200.1L285.4,198.6M271.0,188.2L273.9,188.2M313.1,180.0L311.8,182.6M287.8,187.5L290.6,186.7M271.4,195.8L273.3,194.5M287.3,192.8L288.4,190.8M297.4,178.3L298.7,176.4M304.6,183.1L305.8,185.0M280.6,198.5L281.1,196.2M280.1,227.3L282.0,226.0M323.0,189.5L325.3,190.0M285.6,218.0L287.3,218.5M284.4,189.6L286.0,188.6M288.3,210.9L289.4,212.4M285.8,230.5L286.4,232.2M263.0,223.8L264.8,223.8M270.3,193.4L271.1,192.4M294.8,206.8L296.0,207.4M280.7,180.3L281.6,179.4M289.7,204.9L290.8,205.6M285.8,203.9L286.7,204.8M280.1,215.9L280.7,217.1M281.2,238.9L281.8,240.0M281.4,203.2L282.7,203.3M285.9,207.5L287.2,207.9"/>
<path id="r6_3" d="M306.0,182.4L308.8,183.1M314.3,181.2L314.2,184.1M327.0,185.5L329.3,187.2M308.4,179.2L311.2,179.8M276.9,217.8L277.4,220.6M329.1,182.7L331.1,184.8M292.8,210.9L295.7,210.2M326.1,187.9L328.5,189.6M315.6,179.2L318.5,179.3M315.7,183.8L318.3,182.6M318.7,186.3L320.8,184.2M286.7,184.7L289.6,185.3M332.1,186.3L335.0,186.2M331.9,188.1L334.5,189.4M299.0,186.1L301.9,186.3M320.0,183.3L322.1,181.3M284.2,195.4L284.8,192.5M312.1,177.6L315.0,177.5M286.7,213.5L287.1,216.3M305.9,176.9L308.8,176.8M328.9,184.4L330.9,186.6M290.1,182.2L292.5,183.9M330.3,188.9L332.3,190.0M320.0,181.4L321.5,179.6M316.4,185.0L318.6,184.4M295.7,187.7L298.0,188.3M316.4,177.9L317.7,178.0M301.8,177.3L302.6,176.4"/>
<path id="r6_4" d="M324.0,183.2L326.8,183.8M331.2,182.9L333.0,184.4"/>
</defs>
<use href="#r6_0" stroke="#223103" stroke-width="2.45"/>
<use href="#r6_1" stroke="#243003" stroke-width="2.45"/>
<use href="#r6_2" stroke="#263003" stroke-width="2.45"/>
<use href="#r6_3" stroke="#272f03" stroke-width="2.45"/>
<use href="#r6_4" stroke="#292e02" stroke-width="2.45"/>
<use href="#r6_0" stroke="#7ab00c" stroke-width="0.85"/>
<use href="#r6_1" stroke="#80ad0b" stroke-width="0.85"/>
<use href="#r6_2" stroke="#86aa0a" stroke-width="0.85"/>
<use href="#r6_3" stroke="#8ca709" stroke-width="0.85"/>
<use href="#r6_4" stroke="#92a408" stroke-width="0.85"/>
</g>
<g id="col7" fill="none" stroke-linecap="round">
<path d="M354.1,231.6C353.8,229.7 355.7,226.7 358.3,224.8C360.9,223.0 366.1,220.6 369.6,220.3C373.2,220.1 376.3,223.6 379.7,223.3C383.0,223.1 385.9,221.2 389.7,219.1C393.5,217.0 398.1,213.4 402.3,210.8C406.4,208.2 411.1,205.4 414.8,203.3C418.6,201.1 421.5,200.1 424.9,197.7C428.2,195.3 431.1,191.9 434.9,188.9C438.7,186.0 443.5,182.4 447.5,180.2C451.4,177.9 454.6,176.6 458.8,175.6C462.9,174.7 467.8,174.3 472.6,174.4C477.4,174.4 483.0,175.0 487.6,175.9C492.2,176.8 496.6,178.0 500.2,179.7C503.7,181.3 507.9,183.8 509.0,185.7C510.0,187.5 508.4,189.6 506.5,190.7C504.6,191.8 501.2,192.4 497.7,192.2C494.1,192.0 489.3,190.1 485.1,189.7C480.9,189.3 475.3,188.8 472.6,189.7C469.8,190.6 469.0,192.6 468.8,195.2C468.6,197.8 471.0,201.7 471.3,205.3C471.6,208.8 472.0,213.2 470.6,216.6C469.1,219.9 464.3,223.0 462.5,225.4C460.8,227.7 460.1,228.5 460.0,230.4C459.9,232.3 462.4,234.8 462.0,236.6C461.6,238.5 459.5,240.5 457.5,241.7C455.5,242.8 452.5,244.0 450.0,243.4C447.5,242.9 445.8,239.7 442.4,238.4C439.1,237.1 434.5,236.0 429.9,235.4C425.3,234.8 419.4,234.7 414.8,234.9C410.2,235.1 406.9,236.1 402.3,236.6C397.7,237.2 392.6,237.9 387.2,238.4C381.8,239.0 374.2,240.2 369.6,239.9C365.0,239.6 362.2,238.0 359.6,236.6C357.0,235.3 354.3,233.6 354.1,231.6Z" fill="#1e2803" stroke="#000" stroke-width="2.6"/>
<defs>
<path id="r7_0" d="M376.6,224.2L379.0,225.7M390.5,226.4L393.1,225.3M440.1,221.7L442.6,223.1M388.9,237.3L391.5,236.4M411.8,222.5L413.2,225.0M428.3,214.1L430.2,216.1M433.7,215.4L436.5,214.8M439.8,195.0L441.5,192.8M362.1,229.1L364.7,227.9M420.7,227.0L421.8,224.5M423.6,208.5L426.4,208.7M358.5,234.4L360.1,232.1M383.2,228.0L385.9,228.5M365.9,233.5L367.6,231.2M387.9,225.3L390.4,223.9M395.3,232.8L397.2,230.7M423.9,234.0L424.9,231.4M385.5,234.5L386.9,232.1M363.9,224.2L366.6,223.4M403.8,223.0L406.5,222.6M367.6,225.5L370.3,224.8M419.8,224.7L420.4,222.0M451.1,193.5L453.2,191.7M412.2,230.4L414.5,229.0M377.8,239.0L380.3,237.8M395.3,216.8L398.0,217.6M392.4,228.7L394.5,230.5M455.9,237.2L457.7,239.3M412.3,212.3L414.1,214.5M426.1,196.8L428.6,198.0M380.5,234.1L381.6,231.5M370.9,227.3L373.4,226.1M428.3,235.0L431.1,234.7M382.8,230.4L385.5,231.1M404.4,220.9L407.1,220.2M398.1,223.3L399.6,220.9M378.0,227.3L378.4,230.0M370.6,229.4L373.2,230.4M419.1,210.7L421.9,210.0M405.0,214.2L406.3,211.8M418.3,206.5L417.8,203.7M364.1,233.3L365.8,231.0M386.5,222.8L388.7,221.1M434.4,193.6L437.0,192.5M414.3,226.7L417.1,226.5M392.0,234.9L394.8,234.5M402.0,234.9L404.7,234.3M445.7,191.3L448.5,191.5M361.2,235.5L363.2,237.4M416.4,220.7L418.7,219.0M434.9,199.9L437.7,200.0M376.7,228.6L375.8,231.3M370.7,222.9L373.4,222.1M355.8,231.5L357.9,229.7M449.6,232.2L451.8,234.0M419.4,231.7L420.7,229.3M436.8,216.4L438.9,214.5M408.5,219.1L411.1,217.9M382.0,224.4L384.5,225.6M444.4,219.4L446.7,221.0M405.9,210.0L408.7,209.3M403.3,229.6L406.1,229.7M429.0,194.8L431.8,194.8M360.5,224.0L359.9,226.7M397.0,228.5L399.8,228.1M438.3,212.4L440.7,213.9M423.4,204.0L421.9,201.6M434.0,231.1L435.5,233.4M367.9,238.4L370.6,239.3M447.3,197.2L450.1,197.7M428.8,204.8L431.3,206.1M411.8,205.6L414.3,206.9M423.5,230.3L421.9,228.0M422.3,200.4L424.0,198.2M406.9,236.0L408.1,233.5M443.8,207.2L446.5,206.6M432.3,223.4L431.4,226.0M425.9,202.8L428.7,203.1M422.1,218.5L422.9,215.8M438.9,217.0L441.6,217.5M433.6,217.4L434.7,219.9M376.5,232.8L379.3,233.0M400.7,219.0L402.0,216.5M393.8,223.9L396.5,223.6M415.9,217.7L418.6,217.3M420.3,212.3L423.1,212.7M391.5,231.0L393.5,232.9M415.1,223.9L417.8,224.4M407.7,221.9L410.5,222.6M431.0,196.1L433.8,196.4M419.8,206.0L419.4,203.2M392.0,221.6L394.6,220.6M424.2,206.4L427.0,206.0M383.7,236.2L382.0,234.0M402.5,224.1L400.4,222.3M418.5,221.1L420.8,219.5M413.8,233.2L416.1,231.5M435.8,236.0L438.5,236.5M456.6,207.9L457.2,205.2M397.6,214.3L400.3,215.2M443.7,224.9L443.1,227.6M381.6,238.1L384.3,237.4M366.8,228.1L369.3,226.8M401.4,213.3L404.0,212.2M452.5,240.3L450.5,242.3M427.9,211.1L430.5,211.9M448.1,195.0L450.9,195.3M404.6,227.2L406.9,228.7M408.7,213.3L411.4,214.0M419.6,215.7L421.7,213.9M405.2,218.5L406.0,215.9M442.6,220.8L444.8,222.5M389.1,219.4L391.9,219.1M457.6,215.7L460.4,216.3M400.4,224.4L402.5,226.3M439.5,211.1L439.7,208.3M369.5,234.1L371.7,232.3M380.5,223.4L380.5,226.2M448.8,193.7L450.6,191.6M445.8,213.1L447.9,214.8M362.0,226.3L364.8,225.6M393.1,236.7L395.9,236.0M402.4,222.3L402.9,219.5M424.4,200.5L425.9,198.2M417.2,229.0L419.1,227.0M410.8,210.7L413.6,211.0M414.4,216.2L416.7,214.5M382.0,226.9L381.0,229.6M435.4,210.3L437.9,209.1M408.6,227.3L411.3,226.6M393.8,218.0L396.5,218.8M422.1,204.9L420.7,202.5M419.1,208.3L421.5,206.9M442.0,213.9L443.0,216.5M428.2,216.1L430.3,218.0M389.7,235.4L388.3,232.9M432.6,206.5L435.4,206.4M426.7,212.6L429.5,212.9M426.4,201.3L429.2,200.9M371.8,224.9L374.5,223.9M396.3,221.1L398.7,219.7M416.1,233.5L417.9,231.3M441.9,211.4L444.1,213.1M364.8,237.9L367.1,236.2M426.1,223.7L428.6,225.0M432.2,212.9L432.0,215.7M401.4,211.4L403.8,210.1M407.6,207.9L410.3,207.5M385.1,238.6L386.9,236.4M370.7,237.1L372.9,238.9M367.1,229.9L369.6,228.6M382.7,222.1L385.2,223.3M409.1,235.6L410.3,233.1M362.3,234.4L365.1,235.1M431.5,227.3L431.6,230.1M415.5,222.1L418.1,223.0M437.9,229.8L440.3,231.2M376.3,222.8L379.1,223.3M423.9,215.0L425.1,212.5M398.8,230.1L401.5,229.1M386.9,224.3L389.1,222.5M384.6,221.6L387.2,220.5M363.3,222.9L365.9,221.9M417.6,215.8L419.0,213.3M433.9,233.5L433.4,236.2M434.6,223.4L434.0,225.6M423.7,224.5L422.2,222.9M357.1,232.9L358.7,231.4M430.0,203.5L432.1,203.8M368.9,231.9L370.9,231.0M416.7,234.9L418.9,235.0M434.8,202.3L436.7,201.2M441.3,219.5L443.2,218.3M378.5,237.0L380.2,235.6M408.5,223.6L410.6,224.1M419.3,201.5L420.9,199.9M401.3,227.4L403.4,228.2M373.0,233.3L375.1,233.6M403.6,225.2L405.4,224.0M430.3,193.4L432.5,193.1M458.7,182.6L460.2,181.0M377.5,231.3L379.6,231.6M427.4,220.0L425.6,218.8M445.9,223.4L447.7,222.1M414.1,231.2L415.8,229.8M437.5,223.8L436.8,225.9M440.5,227.5L441.9,228.5M407.8,212.1L408.8,210.7M412.4,218.3L413.9,217.3M431.8,211.4L433.3,210.8M442.7,196.7L444.0,195.6M443.6,236.2L445.3,235.9M416.4,209.8L418.0,209.3M402.9,236.1L404.6,236.0M420.3,217.5L421.4,216.2M371.8,228.4L373.4,227.9M426.9,199.5L428.6,199.4M390.7,232.7L392.2,233.5M424.5,203.2L424.8,201.9M360.9,230.0L361.7,230.9M415.5,206.2L416.5,205.4M355.2,230.2L356.1,229.3M357.3,227.1L357.5,228.4M426.8,230.2L427.9,230.9M379.5,227.4L379.5,228.7M399.5,218.2L399.8,216.9M426.3,217.3L426.8,216.1M406.0,234.8L405.9,233.5M376.4,226.1L376.3,227.4M435.4,189.6L435.7,188.4M407.0,218.8L407.4,217.5M418.5,229.5L419.4,228.6M422.8,221.7L421.8,220.8M369.6,220.5L370.9,220.9"/>
<path id="r7_1" d="M425.0,216.9L426.0,214.2M443.4,187.7L446.0,186.6M412.3,234.6L412.6,231.8M400.0,231.1L402.8,231.3M438.1,207.4L439.2,204.8M440.6,223.6L441.3,226.3M448.0,224.6L448.8,227.3M358.6,227.0L359.4,229.7M449.3,236.5L451.6,238.0M444.4,214.4L444.5,217.2M397.1,225.2L399.9,225.8M439.9,233.8L441.9,231.8M448.7,209.0L446.4,210.6M431.5,209.6L434.3,209.3M397.4,234.2L399.9,235.6M454.5,203.6L454.8,206.4M451.7,216.9L453.1,219.3M389.9,231.6L390.9,229.0M452.9,232.2L455.4,233.3M457.0,196.1L459.3,197.6M457.8,223.3L459.0,225.9M457.7,191.0L457.7,188.2M469.2,200.4L470.4,202.9M414.9,211.8L417.7,211.5M388.7,231.0L388.1,228.3M442.1,209.3L444.6,210.6M469.2,197.5L467.5,199.7M441.6,188.8L440.8,186.1M442.6,238.0L445.4,238.4M462.2,184.6L464.1,182.6M406.4,225.1L409.2,225.4M457.8,202.0L459.4,204.3M438.3,225.7L439.4,228.3M423.9,210.4L426.6,210.6M446.1,203.9L447.8,206.1M446.4,226.9L448.3,229.0M460.3,223.8L461.0,226.5M438.1,190.5L439.9,188.4M374.2,238.4L376.2,236.4M371.7,234.2L373.9,236.0M427.6,222.5L425.5,220.6M461.6,190.1L463.6,188.1M443.4,183.4L446.2,183.5M453.3,184.9L455.8,183.9M444.2,205.0L441.4,205.2M469.0,214.3L470.0,216.9M442.5,234.8L444.9,233.4M467.9,176.1L470.7,175.6M458.4,194.1L460.4,192.1M450.2,190.3L452.7,189.0M425.3,229.5L427.7,228.1M466.3,192.5L468.5,194.3M461.7,187.2L464.1,185.7M411.3,220.5L414.0,221.2M414.6,209.7L416.2,207.4M464.3,207.9L466.8,209.1M420.1,234.7L421.7,232.4M444.9,229.4L447.5,230.4M427.4,218.0L429.7,219.6M436.7,221.8L435.7,224.4M367.7,224.1L369.4,221.9M408.3,216.1L406.7,213.8M375.8,235.1L378.6,235.0M434.4,212.2L437.1,213.1M435.7,218.9L438.2,220.2M432.7,226.4L433.8,229.0M449.3,214.0L450.3,216.6M453.5,239.1L455.5,241.1M361.3,233.6L363.1,231.5M426.2,231.5L428.5,233.1M435.2,226.5L436.7,228.8M408.3,230.1L410.7,231.4M430.6,199.3L433.2,200.3M429.8,232.3L432.5,233.3M457.6,186.9L458.9,184.4M448.2,203.2L449.8,200.9M455.4,197.4L457.9,198.8M465.3,193.6L466.0,196.3M453.5,224.3L456.1,225.3M368.4,236.3L368.1,233.5M435.9,230.6L437.4,232.9M461.0,220.5L463.8,221.1M439.5,235.4L442.2,236.3M466.6,210.6L467.8,213.1M432.4,220.9L435.0,221.9M445.9,231.6L447.7,233.7M392.4,227.1L395.0,226.1M410.6,208.9L413.3,208.1M452.7,199.5L455.1,200.9M453.0,215.9L455.4,217.4M436.1,196.3L438.4,198.0M400.0,233.4L402.8,233.4M456.0,227.6L454.6,230.1M472.0,188.4L474.7,189.1M465.0,188.9L466.8,186.8M422.3,226.6L424.9,225.5M457.3,233.3L460.1,233.5M470.4,183.0L472.9,184.2M446.7,236.1L448.5,238.3M452.9,210.0L453.7,212.7M442.9,192.5L443.9,189.9M433.5,204.7L436.0,203.4M485.9,183.5L486.6,186.3M449.5,186.9L451.5,184.9M474.9,176.8L477.0,175.0M433.3,191.7L436.0,191.0M444.3,201.0L445.2,198.3M473.1,185.5L475.9,185.6M449.8,229.4L451.5,231.6M449.9,226.4L451.8,228.5M425.3,226.8L428.1,226.4M458.5,208.7L461.3,208.5M414.2,204.8L416.4,203.2M430.7,202.3L433.4,202.1M451.7,196.6L453.7,194.7M455.7,221.0L458.5,220.6M437.7,194.9L439.0,192.4M461.7,192.2L463.9,190.4M424.3,221.9L423.1,219.5M446.5,189.3L448.2,187.1M431.0,208.2L433.8,207.9M413.4,219.3L416.2,219.0M429.7,227.2L428.9,229.9M468.1,208.0L468.4,210.7M452.4,235.2L453.7,237.7M451.5,239.3L449.2,240.8M459.5,200.0L460.8,202.5M460.7,186.1L460.0,183.3M462.7,209.3L465.3,210.3M409.6,216.6L412.2,215.6M375.1,225.8L374.8,228.6M442.6,203.4L445.2,202.3M430.9,221.0L430.0,223.6M403.9,232.2L406.6,231.8M467.5,215.2L468.8,217.6M456.3,186.4L457.3,183.8M444.4,185.5L447.1,184.7M403.5,218.2L403.6,215.4M453.3,234.2L455.7,235.6M446.3,181.9L449.0,181.2M448.2,189.5L450.7,188.3M432.1,197.6L434.9,198.1M454.2,208.7L456.8,209.5M451.9,186.4L454.6,186.1M450.4,221.5L452.5,223.2M410.1,228.2L412.9,228.4M444.6,209.1L447.3,208.2M441.9,201.3L443.1,198.8M458.6,238.2L461.2,237.1M392.5,223.1L395.0,221.8M424.6,235.2L426.9,233.6M394.8,228.2L397.2,226.7M460.5,196.8L462.6,198.5M427.7,209.8L429.6,207.7M453.9,214.2L455.7,215.5M440.3,203.0L439.1,201.2M454.3,241.8L452.3,242.6M438.4,221.9L439.1,224.0M386.0,226.4L388.1,226.9M397.3,236.2L399.4,236.9M454.1,222.9L456.1,223.7M401.6,214.6L403.7,213.8M456.1,202.3L457.6,203.9M442.8,186.3L441.7,184.4M429.1,196.3L430.7,197.8M452.0,198.0L454.0,197.1M442.4,207.8L440.3,207.1M439.3,191.1L441.4,190.4M396.1,215.1L398.1,216.0M467.4,218.3L466.9,220.5M364.0,230.4L365.7,229.0M448.9,207.6L450.4,208.4M436.4,234.7L438.1,234.6M451.2,182.8L452.7,183.7M384.0,234.2L384.8,232.7M458.6,175.8L460.2,175.6M422.2,234.9L422.7,233.3M452.7,229.4L453.5,230.9M431.8,217.1L432.2,218.8M463.1,205.2L464.5,204.3M435.7,208.5L436.7,207.2M459.0,222.0L460.7,222.0M409.5,211.9L410.7,212.3M436.6,211.2L437.8,210.9M466.5,189.2L467.7,189.7M449.1,234.5L450.4,234.7M451.6,208.0L452.8,208.5M439.6,199.1L440.3,198.0M397.1,232.8L398.3,233.2M446.0,234.5L447.2,234.9M406.0,226.5L407.2,227.0M448.5,204.7L449.8,205.1M427.6,207.2L428.7,206.4"/>
<path id="r7_2" d="M461.4,199.9L464.2,199.9M456.1,190.3L454.5,188.0M445.1,194.1L447.6,192.8M461.0,214.4L463.7,214.0M449.3,183.9L450.4,181.3M457.7,236.3L460.1,235.0M458.2,211.5L461.0,211.3M451.5,209.6L450.9,212.3M454.8,182.2L456.8,180.3M458.6,207.0L461.4,206.7M447.1,219.2L448.9,221.3M483.6,185.6L485.8,187.4M460.7,194.6L463.5,194.5M461.9,179.8L464.2,178.1M478.2,182.2L480.8,181.2M452.3,225.5L453.9,227.7M465.5,213.1L465.8,215.9M462.2,201.3L464.6,202.7M483.6,181.9L484.8,184.5M440.4,200.7L441.7,198.3M451.3,220.1L453.7,221.7M460.0,189.8L459.5,187.1M469.2,186.3L472.0,186.3M462.6,211.2L465.3,211.8M477.6,186.8L480.2,186.1M445.9,215.5L447.6,217.8M454.9,196.0L456.4,193.6M496.1,184.0L498.9,184.4M464.0,217.9L466.7,217.0M450.1,206.6L452.8,205.6M458.0,228.1L459.6,230.4M465.5,177.7L467.0,180.1M456.7,177.7L459.5,177.1M457.0,231.1L459.7,232.1M469.9,177.1L472.1,178.9M491.4,188.2L493.0,185.9M451.2,180.1L453.1,182.2M468.1,188.0L470.9,187.7M451.5,202.3L454.3,202.1M444.4,197.1L446.4,195.2M471.1,206.4L470.2,209.1M465.5,185.2L468.3,184.9M457.3,218.7L460.1,218.6M437.1,204.8L438.3,202.3M465.9,218.8L465.5,221.5M442.4,229.7L443.8,232.1M500.4,186.4L502.7,187.9M456.5,182.4L458.6,180.7M462.1,176.9L464.6,175.7M496.8,180.1L499.5,179.5M464.1,206.2L466.7,207.1M472.9,180.5L474.7,182.7M460.7,205.1L463.0,203.5M441.0,196.5L442.7,194.3M461.5,219.1L464.2,219.7M490.6,177.3L493.4,177.7M502.3,181.4L504.5,183.0M465.6,191.3L468.4,190.9M484.9,180.6L486.8,182.6M489.7,189.7L492.2,190.9M461.7,196.1L464.0,197.6M494.3,188.0L495.9,185.7M468.2,195.6L466.5,197.8M446.6,200.9L448.9,199.3M452.3,178.8L455.1,178.7M454.6,199.0L457.2,200.0M462.2,222.3L462.4,225.1M447.3,239.1L447.8,241.9M462.2,217.3L464.5,215.6M473.1,177.2L474.4,174.8M449.9,209.9L448.8,212.5M448.6,223.1L450.7,224.8M449.7,203.6L452.4,204.4M477.4,179.4L480.1,179.9M470.0,210.5L470.4,213.2M458.1,213.8L460.7,212.8M494.2,184.1L495.5,181.6M445.5,224.9L444.5,227.5M452.0,212.8L451.5,215.6M437.3,217.7L439.5,219.5M466.5,176.4L468.3,178.5M453.4,193.4L455.4,191.5M455.6,239.2L457.2,240.7M474.2,184.1L476.4,184.3M437.1,189.6L437.5,187.5M487.8,183.6L489.7,184.7M497.1,190.6L498.9,192.0M433.5,195.1L435.7,194.8M454.0,220.3L456.0,219.4M488.0,188.4L490.0,187.6M462.6,193.1L464.6,192.1M477.5,185.2L479.2,184.9M459.0,227.3L460.6,228.0M464.3,222.5L463.7,224.1M468.4,192.5L470.0,193.3M464.7,184.0L465.8,183.4M480.1,175.2L481.4,175.5M465.2,198.5L465.7,199.7M497.4,188.9L498.3,189.9M495.0,191.6L496.2,191.9"/>
<path id="r7_3" d="M476.5,177.9L478.4,175.9M497.0,181.5L499.8,181.1M480.4,177.2L481.8,179.6M467.2,183.6L469.5,182.0M485.2,179.1L487.9,180.0M469.1,180.2L471.5,181.6M467.1,204.8L469.7,205.7M495.5,188.8L497.4,186.7M499.9,190.8L502.7,191.3M481.3,189.5L481.9,186.7M474.9,180.0L476.2,182.5M454.8,211.4L456.7,213.4M488.5,186.3L491.3,185.8M484.8,188.8L487.5,189.6M469.1,189.6L471.3,191.3M503.8,188.8L506.4,189.8M482.7,176.0L483.5,178.7M461.2,182.3L463.5,180.7M489.6,182.7L492.4,183.1M479.7,183.5L482.5,183.2M493.1,189.9L495.8,190.4M466.3,201.8L468.4,203.8M476.1,188.9L478.9,188.8M492.6,179.2L495.3,180.0M504.4,186.9L507.2,187.3M484.4,175.7L486.6,177.4M464.8,181.3L467.6,181.7M458.8,179.0L461.5,178.4M449.0,217.0L450.0,219.6M498.0,182.7L500.2,183.1M474.1,187.5L476.3,187.5M472.0,175.7L472.7,174.6M440.1,215.1L441.1,215.9M490.8,178.9L491.5,180.0M488.4,181.7L489.6,181.4"/>
<path id="r7_4" d="M503.7,184.6L506.3,185.7M498.9,187.9L501.2,189.5M491.2,181.4L494.0,181.2M501.4,184.1L503.1,186.3M488.7,177.1L489.3,179.8M507.4,184.9L508.6,186.2M495.7,178.7L497.0,178.7"/>
</defs>
<use href="#r7_0" stroke="#213404" stroke-width="2.48"/>
<use href="#r7_1" stroke="#233303" stroke-width="2.48"/>
<use href="#r7_2" stroke="#253203" stroke-width="2.48"/>
<use href="#r7_3" stroke="#273103" stroke-width="2.48"/>
<use href="#r7_4" stroke="#293003" stroke-width="2.48"/>
<use href="#r7_0" stroke="#6eae0c" stroke-width="0.88"/>
<use href="#r7_1" stroke="#75aa0c" stroke-width="0.88"/>
<use href="#r7_2" stroke="#7ca70b" stroke-width="0.88"/>
<use href="#r7_3" stroke="#83a40a" stroke-width="0.88"/>
<use href="#r7_4" stroke="#8aa00a" stroke-width="0.88"/>
</g>
<g id="col8" fill="none" stroke-linecap="round">
<path d="M523.5,230.4C523.8,228.1 525.2,224.3 528.1,222.3C530.9,220.3 536.9,218.7 540.6,218.3C544.4,218.0 546.9,221.2 550.7,220.3C554.4,219.4 559.0,215.5 563.2,212.8C567.4,210.1 571.6,206.7 575.8,204.0C580.0,201.3 584.6,199.2 588.3,196.5C592.1,193.8 594.6,190.5 598.4,187.7C602.1,184.9 606.7,182.0 610.9,179.7C615.1,177.3 618.9,175.1 623.5,173.9C628.1,172.6 633.5,172.3 638.5,172.1C643.6,171.9 648.6,171.8 653.6,172.6C658.6,173.5 664.3,175.1 668.7,177.1C673.1,179.1 678.3,182.5 680.0,184.7C681.7,186.8 680.4,188.9 678.7,190.2C677.0,191.5 673.5,192.5 669.9,192.7C666.4,192.9 661.1,192.1 657.4,191.5C653.6,190.8 649.7,188.5 647.3,188.9C645.0,189.4 643.5,191.2 643.1,194.0C642.6,196.7 644.7,201.3 644.8,205.3C644.9,209.2 645.0,213.8 643.6,217.8C642.1,221.8 637.5,225.8 636.0,229.1C634.6,232.5 636.0,235.5 634.8,237.9C633.5,240.3 631.0,242.3 628.5,243.4C626.0,244.6 622.4,245.4 619.7,244.9C617.0,244.5 615.7,241.8 612.2,240.9C608.6,240.1 603.2,240.3 598.4,239.9C593.6,239.5 588.3,238.4 583.3,238.4C578.3,238.4 573.7,239.6 568.2,239.9C562.8,240.2 555.9,240.4 550.7,240.4C545.4,240.4 540.8,240.7 536.9,239.9C532.9,239.2 529.0,237.5 526.8,235.9C524.6,234.3 523.3,232.6 523.5,230.4Z" fill="#1c2a03" stroke="#000" stroke-width="2.6"/>
<defs>
<path id="r8_0" d="M542.2,232.0L545.0,232.7M597.8,219.4L600.4,220.4M571.8,237.4L570.9,234.7M578.2,205.4L579.8,203.1M620.5,227.4L619.0,229.8M587.9,223.8L589.0,221.2M566.0,217.7L567.1,215.1M559.8,230.6L562.4,231.6M534.8,227.1L536.5,229.3M591.5,233.6L593.7,232.0M591.2,202.0L593.9,201.1M570.1,232.0L572.9,232.3M547.1,229.8L549.1,231.7M578.0,217.8L580.2,216.1M591.8,216.5L591.5,213.7M575.5,222.7L575.0,219.9M572.8,216.6L574.7,214.5M569.6,220.6L571.4,218.5M627.0,187.0L628.3,184.6M579.1,228.1L580.6,225.8M535.0,235.9L537.5,234.5M588.3,206.3L589.7,203.9M599.9,187.2L602.6,186.6M551.2,224.9L553.4,226.7M563.6,221.5L566.3,220.8M584.7,227.3L587.4,226.5M554.6,223.0L556.8,221.2M563.4,226.1L566.2,226.1M557.3,233.3L560.1,233.6M544.1,238.4L546.8,237.9M540.3,235.9L542.3,233.9M595.7,225.4L596.7,222.8M586.4,201.7L587.0,198.9M587.7,218.8L589.5,216.6M553.6,238.2L556.4,237.8M539.3,224.5L541.3,226.5M604.9,218.9L607.2,220.4M561.5,215.7L564.3,215.4M596.1,197.5L598.9,197.4M568.2,217.8L570.8,216.9M588.6,202.0L590.2,199.6M568.7,229.4L571.5,229.8M604.8,220.4L604.3,223.1M602.6,229.0L601.6,231.6M555.4,235.8L558.0,237.0M537.7,227.8L540.5,227.5M584.2,222.7L586.6,221.3M598.9,195.5L601.7,195.6M599.2,212.7L602.0,212.3M582.1,221.3L584.0,219.4M600.4,205.4L599.0,203.0M576.4,235.1L577.5,232.5M591.3,226.9L594.1,227.0M621.7,197.7L624.1,196.3M573.0,236.2L571.8,233.7M605.1,189.8L603.9,187.3M547.0,222.9L549.5,224.1M542.9,235.4L545.7,235.3M544.3,222.5L545.7,224.9M582.6,212.9L585.0,214.4M581.9,232.4L582.7,229.7M587.6,232.0L589.9,230.4M554.5,219.7L556.1,217.4M607.0,195.1L609.0,193.1M619.5,203.0L621.6,204.8M566.1,237.9L567.2,235.3M598.3,235.1L601.1,235.2M622.1,232.3L624.3,234.0M560.3,222.0L562.6,220.3M561.2,225.0L563.8,224.0M552.7,232.5L554.2,230.2M581.1,217.3L583.1,215.3M531.2,226.4L533.9,225.5M599.4,214.6L600.8,217.0M611.3,223.3L613.5,221.6M596.9,200.7L599.7,200.1M613.8,225.3L615.7,227.3M578.8,220.4L581.4,219.4M585.2,237.4L587.8,236.3M524.8,229.2L527.4,228.2M630.2,195.1L631.3,197.7M581.0,208.3L583.5,207.0M593.7,198.2L594.6,195.6M627.3,233.6L630.1,233.3M606.3,204.2L606.2,201.4M595.3,233.7L597.9,232.5M599.5,193.5L602.3,193.5M570.3,224.1L572.8,225.4M579.1,224.1L580.4,221.6M551.9,221.2L553.5,218.9M540.9,222.4L541.2,219.6M548.3,239.1L551.1,238.7M558.3,218.5L560.1,216.3M610.5,233.0L612.5,235.0M567.5,212.2L570.3,211.8M532.5,229.0L531.5,231.6M626.0,228.9L627.5,231.2M587.1,208.7L589.7,209.8M606.4,236.9L609.2,236.7M550.6,222.6L553.1,223.8M560.0,237.4L562.7,236.5M636.5,195.8L639.3,195.9M574.6,212.0L574.8,209.2M602.9,224.9L604.3,227.3M582.4,205.7L584.5,203.8M559.8,235.9L562.4,234.8M546.3,226.3L549.0,226.8M556.8,239.6L559.6,239.4M561.1,228.1L563.9,228.2M535.6,225.0L538.1,226.3M565.3,228.6L566.7,231.0M597.4,237.5L596.8,234.7M606.8,232.4L608.2,234.8M538.8,230.8L541.0,232.5M603.5,210.8L605.7,209.1M602.5,209.3L604.8,207.8M596.5,220.8L596.2,218.0M572.4,223.4L571.6,220.7M530.0,224.3L531.9,222.3M533.4,238.2L536.0,239.4M616.1,234.4L615.2,237.0M580.2,209.9L582.8,210.8M584.7,235.2L587.3,234.1M564.3,239.3L567.1,239.6M585.2,206.8L586.7,204.4M594.8,216.7L594.3,213.9M565.2,232.5L568.0,233.2M578.4,238.7L577.3,236.1M594.2,205.5L596.2,203.5M591.6,221.4L590.1,219.0M592.2,222.8L594.1,220.7M613.7,205.5L612.9,202.8M546.6,221.5L549.4,221.0M581.0,205.4L581.6,202.6M589.7,196.3L591.2,194.0M579.5,232.8L580.0,230.1M607.4,224.8L610.1,225.1M589.8,212.0L592.3,210.7M536.1,222.8L535.6,220.1M578.1,209.4L578.6,206.7M579.7,237.9L582.4,236.9M589.4,225.6L590.2,222.9M554.8,232.6L556.8,230.7M575.2,232.3L577.4,230.6M610.6,196.8L613.2,195.7M539.0,239.8L540.1,237.3M607.4,210.2L610.1,209.7M597.2,215.2L595.8,212.8M602.4,216.0L601.8,218.7M609.0,189.9L606.5,188.8M603.0,199.2L605.7,198.2M613.9,183.3L616.6,182.7M537.5,223.6L538.6,221.0M600.3,189.3L602.7,190.8M601.5,203.8L604.3,203.4M604.6,193.3L605.1,196.1M633.2,177.5L631.5,175.2M606.1,182.9L608.4,181.4M538.0,237.3L539.3,234.8M586.4,215.2L589.2,215.0M558.8,228.7L560.5,226.5M526.8,231.0L529.6,231.4M601.1,208.2L601.8,205.5M553.1,235.8L555.1,233.9M547.9,233.2L550.5,234.1M581.3,224.6L583.0,222.4M608.7,239.5L611.5,240.0M626.5,241.7L629.2,242.4M585.1,231.2L587.5,229.7M560.6,218.0L563.4,218.0M564.9,222.6L567.7,222.4M599.7,237.4L602.1,238.8M576.4,219.0L576.6,216.2M622.9,205.0L625.1,206.7M593.3,193.0L595.6,191.3M594.2,239.2L595.0,236.5M615.0,211.0L614.4,213.7M527.2,236.0L530.0,236.3M611.8,228.2L614.5,229.1M582.6,217.8L584.8,216.1M591.2,203.9L593.8,203.0M589.2,228.3L592.0,228.2M577.3,222.9L577.5,220.1M598.7,222.4L598.9,225.2M609.3,188.5L611.2,186.4M559.3,224.2L558.5,221.6M541.1,224.0L543.4,225.6M525.5,233.5L528.2,232.8M576.0,205.2L577.9,203.1M580.7,228.7L583.3,227.7M576.5,225.2L579.2,225.5M605.9,227.5L604.4,229.8M583.4,233.2L586.1,232.2M576.1,214.5L578.7,213.4M599.6,201.5L602.3,202.1M532.3,224.4L534.8,223.2M568.7,239.5L571.4,239.0M594.6,193.9L597.4,193.8M606.0,187.6L604.1,185.6M572.7,213.6L573.1,210.9M588.9,237.0L591.2,235.4M601.7,220.6L601.1,223.4M562.3,238.8L564.6,237.2M568.6,237.6L569.6,235.0M617.2,236.6L619.5,238.1M562.3,229.5L564.3,231.4M595.5,202.2L595.1,199.4M543.5,220.1L546.3,219.7M573.2,220.5L574.4,218.0M576.7,209.6L576.2,206.8M527.5,225.9L528.8,223.4M598.3,191.0L598.3,188.2M597.6,239.4L600.4,239.5M600.9,197.5L601.8,200.1M575.2,237.4L574.6,234.7M579.1,214.8L581.3,213.0M538.5,229.4L541.2,229.7M533.7,230.6L536.2,231.9M599.7,206.5L596.9,206.3M574.9,230.5L577.2,228.8M585.0,217.6L587.7,216.8M587.7,238.8L590.4,238.0M594.6,218.7L591.9,218.0M548.8,229.4L550.9,231.2M574.0,225.0L574.1,222.2M603.9,201.4L606.1,199.7M549.7,225.5L551.7,227.5M537.0,219.6L539.7,219.4M591.6,209.4L594.1,208.1M611.2,188.4L613.4,186.7M589.5,207.8L591.0,205.5M597.7,217.6L600.3,218.5M554.1,224.7L556.7,223.6M592.4,197.2L592.6,194.4M544.0,239.7L546.8,239.8M547.3,236.3L549.9,237.4M606.5,211.4L608.0,213.8M584.3,228.7L587.1,228.4M599.4,211.3L601.4,210.3M531.7,237.0L533.9,236.8M592.0,212.5L594.0,211.5M588.9,234.9L590.1,233.0M607.3,208.6L606.7,206.5M579.5,201.8L581.6,200.9M567.6,225.6L567.6,227.8M533.3,227.9L534.7,229.6M584.7,220.8L586.6,219.7M560.6,223.8L562.4,222.6M571.6,210.5L573.1,208.9M618.3,192.7L620.4,192.1M558.5,231.2L559.9,232.2M569.2,222.6L570.9,222.9M563.9,235.4L565.6,235.6M604.8,240.3L606.5,240.3M575.2,239.2L573.9,238.1M591.8,199.8L593.5,199.6M579.1,236.4L578.8,234.7M523.8,230.8L525.5,230.5M545.2,229.0L546.8,228.4M582.8,203.3L584.2,202.4M596.9,192.1L596.9,190.4M557.7,216.8L558.9,215.7M559.9,220.6L561.2,219.5M627.4,194.8L628.5,196.0M531.9,227.6L530.8,228.8M553.3,222.4L554.5,221.2M573.1,230.7L573.6,229.5M617.6,177.4L618.6,176.6M552.3,234.2L553.4,233.6M603.7,231.0L604.8,231.8M591.1,225.2L591.3,223.9M543.9,236.6L545.2,236.7M535.1,237.5L536.3,237.6M596.3,195.6L597.6,195.9M586.1,203.0L587.3,202.9M565.4,224.0L566.4,224.8M594.1,235.3L595.4,235.1M564.3,212.2L565.3,211.4M568.1,216.3L569.4,215.9"/>
<path id="r8_1" d="M575.5,228.3L575.2,225.5M625.9,176.7L625.9,173.9M618.9,200.1L620.8,202.1M619.0,232.7L618.7,235.5M628.1,197.4L629.5,199.8M576.9,212.7L579.2,211.1M639.1,207.2L639.2,210.0M655.1,174.0L656.6,176.4M633.0,192.2L635.7,193.1M615.4,217.7L618.1,217.2M615.4,196.1L617.3,194.0M629.4,202.9L631.6,201.2M621.5,199.3L624.1,200.1M556.3,226.0L559.1,225.7M636.6,207.8L635.0,210.1M623.4,184.5L626.0,183.3M610.1,199.8L612.6,198.6M606.9,226.3L608.2,228.8M610.6,205.7L609.8,203.1M613.1,189.1L615.1,187.2M596.5,211.0L599.0,209.8M594.8,210.0L595.8,207.4M613.8,230.8L616.3,232.2M632.4,205.9L630.8,203.6M618.9,205.8L620.5,208.1M660.3,185.4L662.9,186.3M617.7,211.8L617.6,214.6M610.1,217.8L612.9,218.5M614.9,184.6L617.6,183.9M607.7,186.6L607.7,183.8M624.6,212.7L627.2,211.8M610.5,182.5L611.9,180.1M605.1,212.4L602.6,213.8M617.1,197.2L619.4,195.5M617.5,191.6L620.1,190.5M616.5,180.3L619.0,181.5M624.7,214.1L626.0,216.5M610.7,235.5L611.5,238.2M617.5,178.9L620.3,178.3M620.8,181.4L622.9,179.6M624.9,230.1L625.0,232.9M583.7,201.1L585.2,198.8M584.4,209.3L584.9,212.1M583.1,225.3L585.9,225.6M529.0,226.8L529.6,229.6M598.4,192.5L600.9,191.3M610.0,211.9L612.3,213.5M615.8,238.9L616.1,241.7M603.6,239.1L606.3,238.2M554.9,228.2L557.5,229.3M603.4,232.6L605.9,233.9M625.8,239.4L628.3,240.6M622.2,214.5L621.2,217.2M570.9,208.1L573.6,207.3M624.5,179.1L627.3,179.0M618.9,223.4L621.7,223.1M619.8,183.0L622.6,183.1M622.5,236.8L624.8,238.4M606.2,230.1L608.6,231.5M608.0,222.1L609.8,219.9M647.9,185.4L649.6,183.1M601.1,233.3L603.5,234.7M535.8,234.0L537.9,232.1M529.1,234.9L531.8,235.3M615.8,203.3L617.5,205.5M625.3,236.1L628.0,236.9M623.4,223.2L622.4,225.8M635.8,198.7L635.4,201.5M623.1,190.7L620.8,189.1M609.3,207.9L611.9,207.0M615.3,206.3L617.0,208.6M542.2,240.0L542.0,237.2M610.2,216.5L612.9,217.0M616.6,187.9L618.5,185.8M627.0,192.2L627.0,189.5M635.6,219.0L636.0,221.8M616.3,192.4L615.0,189.9M617.6,219.1L620.2,220.0M568.4,213.8L571.1,214.4M591.2,207.9L592.9,205.6M592.1,237.6L592.8,234.9M543.7,229.6L545.8,231.4M613.4,199.8L615.6,198.0M621.2,195.1L621.8,192.4M624.1,210.1L626.7,209.0M633.7,228.9L635.7,230.8M597.0,208.4L599.8,208.5M614.0,215.1L616.7,216.0M549.0,235.6L551.7,236.2M633.0,181.3L635.2,179.4M610.4,184.9L613.2,185.2M617.9,226.2L617.2,228.9M568.4,223.9L569.4,226.5M595.5,227.4L597.9,228.8M620.8,175.4L623.6,174.8M562.1,233.0L564.7,234.0M636.2,216.5L637.5,218.9M622.2,206.7L624.6,208.0M639.6,181.2L639.8,184.0M614.0,237.5L614.1,240.3M611.0,230.3L612.5,232.7M613.9,193.5L612.9,190.9M632.0,223.3L634.0,225.3M640.7,190.2L643.0,188.6M592.7,225.3L594.8,223.4M610.3,227.5L612.5,225.9M591.2,231.4L593.5,229.9M611.3,208.6L613.9,207.6M542.2,227.6L545.0,227.6M604.7,191.9L607.1,190.5M638.4,214.9L639.1,217.6M531.5,233.6L534.0,232.2M620.4,231.0L620.4,233.8M623.4,180.8L626.2,180.6M607.5,200.1L609.0,197.7M609.6,195.9L611.4,193.8M631.4,193.0L634.0,194.1M588.3,197.8L591.1,197.6M637.6,192.8L640.4,193.2M549.9,228.2L551.9,230.1M624.4,187.6L625.5,185.0M623.2,195.0L625.9,194.3M609.2,214.1L608.7,216.9M562.7,213.9L565.5,213.3M612.0,182.4L614.6,181.3M651.7,189.0L654.2,190.1M604.2,214.5L603.9,217.2M626.8,238.3L629.5,239.2M586.7,210.1L588.4,212.3M640.1,218.4L641.4,220.9M622.1,210.7L623.1,213.4M569.5,228.2L572.3,228.1M599.2,230.8L599.1,233.6M621.5,219.0L624.2,219.7M571.3,226.5L574.0,227.3M605.9,213.9L605.4,216.7M567.7,210.4L570.4,209.9M609.3,223.7L610.5,221.1M615.9,220.6L618.5,221.6M630.3,218.2L632.1,220.4M611.5,203.9L610.6,201.2M628.4,225.4L629.5,228.0M619.8,221.5L622.6,220.9M621.7,201.1L623.7,203.0M552.2,239.8L555.0,240.2M627.6,182.8L628.3,180.1M612.6,220.6L614.8,218.9M602.7,236.6L605.4,235.9M613.9,179.1L616.3,177.6M618.0,243.6L620.7,244.2M614.4,232.9L613.8,235.6M633.0,184.1L635.7,184.4M627.3,177.6L627.4,174.8M621.2,235.0L620.8,237.7M603.0,207.4L605.1,205.6M564.4,218.9L567.2,219.3M598.9,227.0L600.0,229.6M637.4,194.2L640.1,194.6M620.6,240.6L622.9,242.0M618.4,208.3L618.7,211.0M611.6,224.7L614.1,223.3M622.9,217.2L625.6,218.0M587.4,213.8L590.2,213.5M622.1,178.3L624.2,177.6M603.5,194.6L603.1,196.8M627.1,210.3L629.1,211.2M616.0,201.9L618.0,202.7M603.3,220.0L603.1,222.2M605.9,221.3L607.0,223.2M629.4,183.8L631.5,184.1M641.3,176.2L643.2,175.1M622.8,188.0L623.3,185.9M615.5,209.1L617.0,210.7M543.0,223.7L542.8,221.5M628.8,212.7L630.9,213.2M625.3,221.0L627.4,221.4M620.6,224.8L619.7,226.2M605.4,224.0L605.6,225.7M632.9,209.0L633.7,210.5M624.7,242.5L625.9,243.7M627.3,218.4L629.0,218.3M608.8,202.2L608.9,200.5M622.0,208.1L621.1,209.6M606.2,197.0L607.8,196.5M632.2,173.6L633.8,172.8M617.3,230.3L618.0,231.8M595.4,239.6L596.3,238.1M627.6,227.2L627.8,228.9M623.9,182.7L625.5,182.0M582.5,238.3L584.2,238.3M617.7,242.0L616.5,243.2M616.3,212.6L616.0,214.3M642.8,205.8L642.6,207.5M579.9,212.2L581.0,211.5M617.5,233.3L617.4,234.6M533.5,222.1L533.8,220.9M622.6,235.0L623.6,235.8M625.5,189.0L626.0,187.9M623.1,238.9L624.2,239.6M630.7,238.1L632.0,238.3M556.6,227.4L557.9,227.6M618.6,194.1L619.9,193.9M576.8,227.1L578.0,226.8M556.3,219.8L557.1,218.8"/>
<path id="r8_2" d="M580.1,234.6L582.8,234.9M632.0,195.6L634.3,197.3M653.6,187.5L656.3,186.9M651.5,179.1L653.6,180.9M644.7,183.4L646.3,185.7M594.8,229.4L597.2,230.8M600.9,225.3L601.0,228.1M638.3,177.5L639.9,179.8M640.2,201.5L642.8,202.6M611.8,210.8L614.2,209.4M632.2,217.7L633.8,220.0M638.8,173.9L641.5,174.5M626.3,199.1L627.9,201.4M616.3,199.2L618.1,201.3M620.3,211.3L620.1,214.1M632.4,214.3L634.0,216.6M628.3,187.9L629.9,185.6M637.1,190.6L639.6,189.2M615.1,224.5L616.9,222.4M610.8,192.6L611.2,189.9M619.9,176.8L622.7,176.6M629.4,179.0L630.5,176.5M641.8,204.1L644.5,204.7M628.5,193.4L629.3,190.7M630.3,224.0L632.2,226.0M651.9,185.0L654.2,183.4M621.7,239.6L624.0,241.1M666.4,177.3L669.2,177.6M630.6,211.7L633.4,212.0M624.7,191.9L624.0,189.2M632.7,230.2L633.5,232.9M640.3,212.8L637.6,213.6M608.5,206.2L607.9,203.5M657.7,178.7L659.8,176.9M654.9,185.1L657.7,184.8M631.6,187.8L633.2,185.5M642.5,192.3L644.2,190.0M668.2,192.3L671.0,192.1M646.0,178.0L648.6,179.1M650.9,176.4L653.6,175.6M632.3,207.2L635.1,207.5M617.9,238.8L619.1,241.3M628.5,209.1L631.2,209.7M629.1,175.5L630.6,173.2M607.1,215.5L607.5,218.2M633.3,222.5L636.0,223.1M619.5,184.7L621.9,186.2M639.6,204.2L641.2,206.5M643.0,176.8L645.8,176.7M630.0,181.5L631.9,179.4M634.2,175.0L636.1,173.0M638.4,185.5L637.9,188.3M632.3,203.4L635.1,203.2M642.3,208.8L640.6,211.0M625.9,219.5L628.7,219.9M624.9,202.3L627.6,202.9M637.6,174.8L640.0,176.3M674.3,188.9L677.0,188.2M638.2,220.4L638.3,223.2M640.7,185.8L643.5,185.7M627.2,215.4L629.5,217.0M627.9,214.0L630.5,215.0M624.8,204.8L627.5,205.4M645.8,182.0L648.5,182.3M644.4,208.9L643.8,211.6M658.8,185.6L659.4,188.3M631.6,236.8L634.3,235.9M648.5,172.7L651.3,172.8M635.7,211.9L635.2,214.6M646.3,174.5L649.0,175.5M632.3,182.7L635.1,183.0M633.4,188.0L636.2,188.0M661.4,189.3L663.1,191.5M667.2,183.9L669.7,185.2M618.1,198.2L620.4,196.6M629.1,230.2L631.4,231.8M664.3,185.6L667.1,185.8M614.7,204.3L613.9,201.6M662.5,188.1L665.2,187.6M637.6,198.8L638.0,201.6M624.1,227.5L622.8,230.0M642.4,172.6L645.0,173.7M619.9,242.5L622.6,243.4M629.3,222.0L632.1,221.8M640.6,198.3L642.2,200.6M632.2,189.6L635.0,190.2M665.6,180.0L668.0,181.5M630.5,226.4L631.5,229.1M633.9,226.6L635.7,228.8M646.8,180.1L649.4,181.0M650.8,187.0L653.5,186.2M642.2,213.3L642.5,216.1M628.4,207.7L630.6,206.0M659.6,179.0L661.7,177.1M647.5,176.8L650.0,178.1M618.4,188.8L620.4,186.9M634.3,205.0L637.0,205.8M635.2,224.4L636.6,226.8M630.9,199.1L633.7,198.8M622.5,227.5L620.7,229.7M634.1,176.4L636.9,175.9M630.8,190.5L630.0,187.8M636.0,204.1L638.6,203.1M633.9,238.6L632.2,240.1M634.4,186.4L636.6,186.5M610.8,214.2L612.6,215.4M637.8,208.7L637.8,210.9M641.1,183.6L643.3,183.5M634.8,177.8L636.9,177.3M607.3,192.7L609.0,191.3M633.2,234.6L635.3,234.0M619.3,216.2L620.3,218.2M644.8,178.9L644.7,181.1M633.1,200.4L634.2,201.8M642.3,219.7L643.1,218.2M643.4,199.0L643.9,200.7M626.0,207.7L627.4,206.8M637.1,224.4L638.2,225.7M639.2,172.5L640.9,172.6M657.1,182.6L658.5,183.6M617.3,224.1L618.4,224.7M658.6,180.1L659.8,180.6M649.3,189.4L650.3,188.6M629.8,240.5L630.6,241.5M638.3,191.4L639.5,191.0M643.9,213.3L643.7,214.6M661.1,181.1L662.3,181.6M628.8,205.3L629.8,204.5"/>
<path id="r8_3" d="M673.5,184.2L675.9,185.6M663.3,182.5L666.1,182.3M661.1,179.5L663.8,180.4M641.1,179.4L641.5,182.2M625.5,222.5L627.9,224.0M670.6,187.8L672.8,186.0M671.6,190.2L674.3,191.0M630.2,236.6L631.3,234.1M645.9,188.4L648.6,187.6M658.1,181.3L660.6,182.5M675.7,183.8L678.5,184.2M669.1,179.2L671.4,180.7M640.8,214.1L641.3,216.8M670.1,181.7L671.3,184.1M641.4,177.7L643.4,179.6M666.3,192.3L667.3,189.7M641.4,195.1L642.5,197.6M664.4,189.6L667.0,188.4M624.6,224.5L626.1,226.9M656.8,189.1L659.4,190.2M654.6,179.1L655.5,181.8M668.5,190.9L669.1,188.1M672.9,180.1L673.1,182.9M660.8,175.1L663.6,175.7M650.8,181.4L653.4,182.3M623.9,197.9L626.4,196.6M652.6,177.9L655.4,177.5M637.1,180.3L637.3,183.0M659.9,183.9L662.7,183.9M662.9,178.3L664.9,176.4M625.9,234.6L628.6,235.4M650.8,174.5L653.5,173.6M672.6,188.7L674.4,186.6M677.3,185.6L679.4,185.4M639.3,187.7L641.4,187.1M644.9,191.5L646.3,189.9M643.5,187.4L645.6,186.8M656.2,178.7L656.6,180.8M659.2,191.5L661.3,191.3M649.8,185.1L650.8,183.7M656.0,190.6L657.6,191.2M638.9,198.1L639.5,199.7M675.8,190.5L677.1,190.3M674.4,181.7L675.3,182.6"/>
<path id="r8_4" d="M678.8,189.9L679.2,187.1M657.1,174.1L659.6,175.5M665.5,178.5L667.5,179.4M675.9,186.9L677.6,186.9"/>
</defs>
<use href="#r8_0" stroke="#1f3704" stroke-width="2.48"/>
<use href="#r8_1" stroke="#213503" stroke-width="2.48"/>
<use href="#r8_2" stroke="#233403" stroke-width="2.48"/>
<use href="#r8_3" stroke="#253303" stroke-width="2.48"/>
<use href="#r8_4" stroke="#283203" stroke-width="2.48"/>
<use href="#r8_0" stroke="#66b60c" stroke-width="0.88"/>
<use href="#r8_1" stroke="#6eb20c" stroke-width="0.88"/>
<use href="#r8_2" stroke="#75ae0b" stroke-width="0.88"/>
<use href="#r8_3" stroke="#7caa0a" stroke-width="0.88"/>
<use href="#r8_4" stroke="#84a60a" stroke-width="0.88"/>
</g>
<path d="M69.0,94.9C70.9,94.5 75.7,94.2 80.3,92.4C84.9,90.6 92.1,87.6 96.7,84.1C101.3,80.6 104.9,75.6 108.0,71.6C111.1,67.6 114.2,62.2 115.5,60.3" stroke="#8a3a08" stroke-width="1.3" fill="none" stroke-linecap="round"/>
<g id="col2"><path d="M188.44,101.40L189.94,101.30L191.44,101.20L192.94,101.10L194.44,101.00L195.94,100.90L197.44,100.80L198.44,100.74M199.38,99.77L200.88,99.67L202.37,99.57L203.86,99.47L205.35,99.36L206.83,99.21L208.32,99.06L209.82,98.91L209.82,98.91M210.82,98.81L212.32,98.66L213.82,98.51L215.32,98.36L216.82,98.21L218.32,98.06L219.75,97.92L221.23,97.77L222.67,97.44L223.14,97.31M223.69,96.20L225.15,95.78L226.61,95.36L228.08,94.94L229.54,94.52L231.00,94.09L232.46,93.67L233.93,93.25L233.93,93.25M234.75,93.02L236.15,92.62L237.54,92.07L238.88,91.47L240.23,90.87L241.63,90.24L243.03,89.62L244.43,88.99L244.43,88.99M245.00,87.75L246.40,87.13L247.33,86.71M189.06,103.16L190.56,103.06L192.06,102.96L193.56,102.86L195.06,102.76L196.56,102.66L198.06,102.56L199.56,102.46L199.56,102.46M200.50,101.50L202.00,101.40L203.50,101.30L205.00,101.20L206.50,101.05L208.00,100.90L209.50,100.75L211.00,100.60L211.50,100.55M212.50,100.45L214.00,100.30L215.50,100.15L217.00,100.00L218.50,99.85L220.00,99.70L221.50,99.55L222.97,99.22L224.44,98.80L224.44,98.80M224.68,97.79L226.14,97.37L227.60,96.95L229.06,96.53L230.53,96.10L231.99,95.68L232.96,95.40M233.94,95.12L235.36,94.71L236.81,94.29L238.21,93.74L239.58,93.13L240.97,92.51L242.37,91.89L242.83,91.68M243.77,91.26L245.17,90.64L246.57,90.01L247.97,89.39L248.43,89.18M203.15,103.13L204.66,103.03L206.16,102.89L207.67,102.74L209.18,102.59L210.68,102.44L211.68,102.34M212.18,102.29L213.68,102.14L215.18,101.99L216.68,101.84L218.18,101.69L219.73,101.54L221.30,101.38L222.83,101.13L224.34,100.69L225.38,100.40M226.15,99.24L227.61,98.82L229.07,98.40L230.54,97.97L232.00,97.55L233.46,97.13L234.93,96.71L236.41,96.28L237.88,95.86L238.82,95.44M239.37,95.20L240.77,94.57L242.17,93.95L243.57,93.32L244.97,92.70L246.37,92.07L247.77,91.45L249.17,90.82L249.17,90.82M230.06,99.98L231.52,99.56L232.99,99.14L234.45,98.72L235.94,98.29L237.41,97.86L238.87,97.37L238.87,97.37M240.10,96.84L241.50,96.22L242.90,95.59L244.30,94.97L245.70,94.34L247.10,93.72L248.50,93.09L249.90,92.47L249.90,92.47M247.93,94.33L249.33,93.70L250.27,93.29M247.58,85.87L248.74,84.81L249.91,83.74L251.07,82.67L252.24,81.59L253.40,80.52L254.21,79.83M254.56,78.40L255.81,77.40L257.10,76.38L258.37,75.36L259.65,74.46L260.95,73.61L260.95,73.61M261.85,73.01L263.10,72.18L264.36,71.36L265.62,70.53L266.88,69.70L267.71,69.15M268.94,69.35L270.16,68.45L271.37,67.55L272.59,66.65L273.68,65.85L274.83,65.02L275.69,63.88L276.13,63.06M277.24,62.88L278.00,61.54L278.76,60.20L279.52,58.86L279.52,58.86M250.74,85.42L251.90,84.35L253.06,83.28L254.22,82.21L255.42,81.17L256.66,80.18L257.49,79.52M257.78,78.14L259.04,77.13L260.30,76.19L261.56,75.35L262.84,74.52L264.10,73.69L264.10,73.69M264.51,73.41L265.77,72.58L267.02,71.76L268.27,70.93L269.50,70.06L270.30,69.46M271.63,69.60L272.85,68.70L274.07,67.80L275.28,66.90L276.50,66.00L277.01,65.11M278.30,64.66L279.06,63.32L279.82,61.98L280.58,60.64L281.08,59.74M251.57,87.10L252.73,86.03L253.89,84.97L255.03,83.91L256.19,82.85L257.42,81.87L257.42,81.87M257.64,80.55L258.87,79.57L260.11,78.58L261.34,77.66L262.59,76.84L263.83,76.02L265.09,75.19L265.50,74.91M266.34,74.36L267.61,73.53L268.87,72.69L270.12,71.84L271.35,70.93L272.57,70.02L272.57,70.02M257.51,82.95L258.76,81.96L259.98,80.99L261.21,80.01L262.44,79.08L263.26,78.54M263.98,78.07L265.24,77.24L266.50,76.42L267.75,75.59L269.04,74.74L270.30,73.91L271.54,73.02L271.95,72.72M279.67,58.95L280.78,57.87L281.94,56.75L283.07,55.65L284.40,54.81L285.36,54.32M286.80,54.60L288.20,53.90L289.70,53.40L291.20,52.90L292.70,52.40L294.20,51.90L294.20,51.90M282.04,59.17L283.09,58.14L284.16,57.09L285.42,56.29L286.77,55.62L288.12,54.94L289.09,54.55M295.50,53.20L297.00,53.06L298.50,52.92L300.00,52.78L301.50,52.64L303.00,52.50L304.50,52.48L306.00,52.46L307.50,52.45L309.00,52.43L310.50,52.41L311.50,52.40M303.50,55.30L305.00,55.08L306.50,54.86L308.00,54.64L309.50,54.42L311.00,54.20L312.50,54.14L314.00,54.07L315.50,54.01L317.00,53.94L318.00,53.90M319.80,54.70L321.34,55.04L322.88,55.38L324.41,55.71L325.95,56.05L327.49,56.39L328.96,56.86L329.44,57.04M330.39,57.39L331.83,57.93L333.27,58.47L334.71,59.01L336.14,59.54L337.10,59.90M271.24,74.94L272.74,74.49L274.34,74.01L275.89,73.56L277.48,73.62L278.58,73.83M279.63,74.94L281.19,75.26L282.76,75.59L284.23,76.10L285.52,77.00L286.81,77.90L286.81,77.90M287.66,78.50L288.95,79.40L290.24,80.30L291.45,81.32L292.48,82.57L293.52,83.83L294.55,85.08L294.90,85.50M271.76,76.66L273.26,76.21L274.66,75.79L276.07,75.35L277.52,75.41L279.00,75.73L280.49,76.04L281.01,76.15M248.92,90.91L250.47,91.11L252.02,91.31L253.57,91.51L254.60,91.64M255.56,91.73L257.06,91.82L258.56,91.92L260.06,92.01L261.56,92.10L261.56,92.10M250.75,92.96L252.31,93.16L253.86,93.36L255.40,93.53L255.90,93.56M256.94,93.62L258.44,93.71L259.94,93.81L261.44,93.90L261.44,93.90M258.31,85.46L259.81,86.01L261.31,86.56L262.81,87.11L264.31,87.66L264.31,87.66M265.35,88.29L266.65,89.12L267.97,89.96L269.28,90.79L270.51,91.74L270.91,92.09M271.16,93.49L272.34,94.51L273.52,95.52L274.30,96.20M258.19,87.33L259.69,87.88L261.16,88.42L262.63,88.95L264.04,89.59L265.31,90.40L265.73,90.66M274.30,96.20L275.15,97.53L276.00,98.87L276.85,100.20L277.70,101.53L278.55,102.87L278.83,103.31M279.40,104.20L280.34,105.46L281.29,106.73L282.23,107.99L283.17,109.26L283.80,110.10" stroke="#8c410c" stroke-width="1.8" stroke-linecap="round" stroke-linejoin="round" fill="none"/>
<path d="M188.44,101.40L189.94,101.30L191.44,101.20L192.94,101.10L194.44,101.00L195.94,100.90L197.44,100.80L198.44,100.74M199.38,99.77L200.88,99.67L202.37,99.57L203.86,99.47L205.35,99.36L206.83,99.21L208.32,99.06L209.82,98.91L209.82,98.91M210.82,98.81L212.32,98.66L213.82,98.51L215.32,98.36L216.82,98.21L218.32,98.06L219.75,97.92L221.23,97.77L222.67,97.44L223.14,97.31M223.69,96.20L225.15,95.78L226.61,95.36L228.08,94.94L229.54,94.52L231.00,94.09L232.46,93.67L233.93,93.25L233.93,93.25M234.75,93.02L236.15,92.62L237.54,92.07L238.88,91.47L240.23,90.87L241.63,90.24L243.03,89.62L244.43,88.99L244.43,88.99M245.00,87.75L246.40,87.13L247.33,86.71M189.06,103.16L190.56,103.06L192.06,102.96L193.56,102.86L195.06,102.76L196.56,102.66L198.06,102.56L199.56,102.46L199.56,102.46M200.50,101.50L202.00,101.40L203.50,101.30L205.00,101.20L206.50,101.05L208.00,100.90L209.50,100.75L211.00,100.60L211.50,100.55M212.50,100.45L214.00,100.30L215.50,100.15L217.00,100.00L218.50,99.85L220.00,99.70L221.50,99.55L222.97,99.22L224.44,98.80L224.44,98.80M224.68,97.79L226.14,97.37L227.60,96.95L229.06,96.53L230.53,96.10L231.99,95.68L232.96,95.40M233.94,95.12L235.36,94.71L236.81,94.29L238.21,93.74L239.58,93.13L240.97,92.51L242.37,91.89L242.83,91.68M243.77,91.26L245.17,90.64L246.57,90.01L247.97,89.39L248.43,89.18M203.15,103.13L204.66,103.03L206.16,102.89L207.67,102.74L209.18,102.59L210.68,102.44L211.68,102.34M212.18,102.29L213.68,102.14L215.18,101.99L216.68,101.84L218.18,101.69L219.73,101.54L221.30,101.38L222.83,101.13L224.34,100.69L225.38,100.40M226.15,99.24L227.61,98.82L229.07,98.40L230.54,97.97L232.00,97.55L233.46,97.13L234.93,96.71L236.41,96.28L237.88,95.86L238.82,95.44M239.37,95.20L240.77,94.57L242.17,93.95L243.57,93.32L244.97,92.70L246.37,92.07L247.77,91.45L249.17,90.82L249.17,90.82M230.06,99.98L231.52,99.56L232.99,99.14L234.45,98.72L235.94,98.29L237.41,97.86L238.87,97.37L238.87,97.37M240.10,96.84L241.50,96.22L242.90,95.59L244.30,94.97L245.70,94.34L247.10,93.72L248.50,93.09L249.90,92.47L249.90,92.47M247.93,94.33L249.33,93.70L250.27,93.29M247.58,85.87L248.74,84.81L249.91,83.74L251.07,82.67L252.24,81.59L253.40,80.52L254.21,79.83M254.56,78.40L255.81,77.40L257.10,76.38L258.37,75.36L259.65,74.46L260.95,73.61L260.95,73.61M261.85,73.01L263.10,72.18L264.36,71.36L265.62,70.53L266.88,69.70L267.71,69.15M268.94,69.35L270.16,68.45L271.37,67.55L272.59,66.65L273.68,65.85L274.83,65.02L275.69,63.88L276.13,63.06M277.24,62.88L278.00,61.54L278.76,60.20L279.52,58.86L279.52,58.86M250.74,85.42L251.90,84.35L253.06,83.28L254.22,82.21L255.42,81.17L256.66,80.18L257.49,79.52M257.78,78.14L259.04,77.13L260.30,76.19L261.56,75.35L262.84,74.52L264.10,73.69L264.10,73.69M264.51,73.41L265.77,72.58L267.02,71.76L268.27,70.93L269.50,70.06L270.30,69.46M271.63,69.60L272.85,68.70L274.07,67.80L275.28,66.90L276.50,66.00L277.01,65.11M278.30,64.66L279.06,63.32L279.82,61.98L280.58,60.64L281.08,59.74M251.57,87.10L252.73,86.03L253.89,84.97L255.03,83.91L256.19,82.85L257.42,81.87L257.42,81.87M257.64,80.55L258.87,79.57L260.11,78.58L261.34,77.66L262.59,76.84L263.83,76.02L265.09,75.19L265.50,74.91M266.34,74.36L267.61,73.53L268.87,72.69L270.12,71.84L271.35,70.93L272.57,70.02L272.57,70.02M257.51,82.95L258.76,81.96L259.98,80.99L261.21,80.01L262.44,79.08L263.26,78.54M263.98,78.07L265.24,77.24L266.50,76.42L267.75,75.59L269.04,74.74L270.30,73.91L271.54,73.02L271.95,72.72M279.67,58.95L280.78,57.87L281.94,56.75L283.07,55.65L284.40,54.81L285.36,54.32M286.80,54.60L288.20,53.90L289.70,53.40L291.20,52.90L292.70,52.40L294.20,51.90L294.20,51.90M282.04,59.17L283.09,58.14L284.16,57.09L285.42,56.29L286.77,55.62L288.12,54.94L289.09,54.55M295.50,53.20L297.00,53.06L298.50,52.92L300.00,52.78L301.50,52.64L303.00,52.50L304.50,52.48L306.00,52.46L307.50,52.45L309.00,52.43L310.50,52.41L311.50,52.40M303.50,55.30L305.00,55.08L306.50,54.86L308.00,54.64L309.50,54.42L311.00,54.20L312.50,54.14L314.00,54.07L315.50,54.01L317.00,53.94L318.00,53.90M319.80,54.70L321.34,55.04L322.88,55.38L324.41,55.71L325.95,56.05L327.49,56.39L328.96,56.86L329.44,57.04M330.39,57.39L331.83,57.93L333.27,58.47L334.71,59.01L336.14,59.54L337.10,59.90M271.24,74.94L272.74,74.49L274.34,74.01L275.89,73.56L277.48,73.62L278.58,73.83M279.63,74.94L281.19,75.26L282.76,75.59L284.23,76.10L285.52,77.00L286.81,77.90L286.81,77.90M287.66,78.50L288.95,79.40L290.24,80.30L291.45,81.32L292.48,82.57L293.52,83.83L294.55,85.08L294.90,85.50M271.76,76.66L273.26,76.21L274.66,75.79L276.07,75.35L277.52,75.41L279.00,75.73L280.49,76.04L281.01,76.15M248.92,90.91L250.47,91.11L252.02,91.31L253.57,91.51L254.60,91.64M255.56,91.73L257.06,91.82L258.56,91.92L260.06,92.01L261.56,92.10L261.56,92.10M250.75,92.96L252.31,93.16L253.86,93.36L255.40,93.53L255.90,93.56M256.94,93.62L258.44,93.71L259.94,93.81L261.44,93.90L261.44,93.90M258.31,85.46L259.81,86.01L261.31,86.56L262.81,87.11L264.31,87.66L264.31,87.66M265.35,88.29L266.65,89.12L267.97,89.96L269.28,90.79L270.51,91.74L270.91,92.09M271.16,93.49L272.34,94.51L273.52,95.52L274.30,96.20M258.19,87.33L259.69,87.88L261.16,88.42L262.63,88.95L264.04,89.59L265.31,90.40L265.73,90.66M274.30,96.20L275.15,97.53L276.00,98.87L276.85,100.20L277.70,101.53L278.55,102.87L278.83,103.31M279.40,104.20L280.34,105.46L281.29,106.73L282.23,107.99L283.17,109.26L283.80,110.10" stroke="#1a0800" stroke-width="0.8" stroke-linecap="butt" stroke-linejoin="round" fill="none"/></g>
<rect x="169.8" y="17.3" width="1.2" height="255.7" fill="#a8a8a8"/>
<rect x="341.6" y="17.3" width="1.2" height="255.7" fill="#a8a8a8"/>
<rect x="513.0" y="17.3" width="1.2" height="255.7" fill="#a8a8a8"/>
<rect x="0" y="144.3" width="685" height="1.2" fill="#a8a8a8"/>
<rect x="0" y="17.3" width="0.8" height="255.7" fill="#999"/>
<rect x="684.3" y="17.3" width="0.7" height="255.7" fill="#999"/>
<rect x="0" y="17.3" width="685" height="0.7" fill="#777"/>
<text transform="translate(0.6,24.9) scale(0.945,1)" font-size="10" fill="#dcdcdc">00:00</text>
<rect x="141.5" y="131.1" width="20.7" height="1.15" fill="#d4d4d4"/>
<text x="152.0" y="139.2" font-size="7.15" font-weight="bold" fill="#f0f0f0" text-anchor="middle">10 µm</text>
<text transform="translate(171.7,24.9) scale(0.945,1)" font-size="10" fill="#dcdcdc">02:06</text>
<rect x="313.3" y="131.1" width="20.7" height="1.15" fill="#d4d4d4"/>
<text x="323.8" y="139.2" font-size="7.15" font-weight="bold" fill="#f0f0f0" text-anchor="middle">10 µm</text>
<text transform="translate(343.5,24.9) scale(0.945,1)" font-size="10" fill="#dcdcdc">04:12</text>
<rect x="484.7" y="131.1" width="20.7" height="1.15" fill="#d4d4d4"/>
<text x="495.2" y="139.2" font-size="7.15" font-weight="bold" fill="#f0f0f0" text-anchor="middle">10 µm</text>
<text transform="translate(514.9,24.9) scale(0.945,1)" font-size="10" fill="#dcdcdc">06:18</text>
<rect x="656.1" y="131.1" width="20.7" height="1.15" fill="#d4d4d4"/>
<text x="666.6" y="139.2" font-size="7.15" font-weight="bold" fill="#f0f0f0" text-anchor="middle">10 µm</text>
<text transform="translate(0.6,153.2) scale(0.945,1)" font-size="10" fill="#dcdcdc">08:24</text>
<rect x="141.5" y="259.2" width="20.7" height="1.15" fill="#d4d4d4"/>
<text x="152.0" y="267.3" font-size="7.15" font-weight="bold" fill="#f0f0f0" text-anchor="middle">10 µm</text>
<text transform="translate(171.7,153.2) scale(0.945,1)" font-size="10" fill="#dcdcdc">10:30</text>
<rect x="313.3" y="259.2" width="20.7" height="1.15" fill="#d4d4d4"/>
<text x="323.8" y="267.3" font-size="7.15" font-weight="bold" fill="#f0f0f0" text-anchor="middle">10 µm</text>
<text transform="translate(343.5,153.2) scale(0.945,1)" font-size="10" fill="#dcdcdc">12:36</text>
<rect x="484.7" y="259.2" width="20.7" height="1.15" fill="#d4d4d4"/>
<text x="495.2" y="267.3" font-size="7.15" font-weight="bold" fill="#f0f0f0" text-anchor="middle">10 µm</text>
<text transform="translate(514.9,153.2) scale(0.945,1)" font-size="10" fill="#dcdcdc">14:42</text>
<rect x="656.1" y="259.2" width="20.7" height="1.15" fill="#d4d4d4"/>
<text x="666.6" y="267.3" font-size="7.15" font-weight="bold" fill="#f0f0f0" text-anchor="middle">10 µm</text>
<text x="33" y="290.5" font-size="14.2" fill="#111">B</text>
<rect x="141.3" y="323.4" width="117.4" height="267.3" fill="#e6e6e6"/>
<g stroke="#6c6c6c" stroke-width="1.0" fill="none">
<path d="M111.5,319.4V591.3"/>
<path d="M106.0,591.3H573.3"/>
<path d="M573.3,319.4V591.3" stroke-width="1.4"/>
<path d="M106.0,591.3H111.5"/>
<path d="M106.0,557.3H111.5"/>
<path d="M106.0,523.3H111.5"/>
<path d="M106.0,489.3H111.5"/>
<path d="M106.0,455.3H111.5"/>
<path d="M106.0,421.4H111.5"/>
<path d="M106.0,387.4H111.5"/>
<path d="M106.0,353.4H111.5"/>
<path d="M106.0,319.4H111.5"/>
<path d="M567.7,591.3H577.9"/>
<path d="M567.7,561.1H577.9"/>
<path d="M567.7,530.9H577.9"/>
<path d="M567.7,500.7H577.9"/>
<path d="M567.7,470.5H577.9"/>
<path d="M567.7,440.2H577.9"/>
<path d="M567.7,410.0H577.9"/>
<path d="M567.7,379.8H577.9"/>
<path d="M567.7,349.6H577.9"/>
<path d="M567.7,319.4H577.9"/>
<path d="M111.5,591.3V596.8"/>
<path d="M247.5,591.3V596.8"/>
<path d="M383.5,591.3V596.8"/>
<path d="M519.5,591.3V596.8"/>
</g>
<text x="96.6" y="596.0" font-size="15.4" fill="#1a1a1a" text-anchor="end">0</text>
<text x="96.6" y="562.0" font-size="15.4" fill="#1a1a1a" text-anchor="end">1000</text>
<text x="96.6" y="528.0" font-size="15.4" fill="#1a1a1a" text-anchor="end">2000</text>
<text x="96.6" y="494.0" font-size="15.4" fill="#1a1a1a" text-anchor="end">3000</text>
<text x="96.6" y="460.0" font-size="15.4" fill="#1a1a1a" text-anchor="end">4000</text>
<text x="96.6" y="426.1" font-size="15.4" fill="#1a1a1a" text-anchor="end">5000</text>
<text x="96.6" y="392.1" font-size="15.4" fill="#1a1a1a" text-anchor="end">6000</text>
<text x="96.6" y="358.1" font-size="15.4" fill="#1a1a1a" text-anchor="end">7000</text>
<text x="96.6" y="324.1" font-size="15.4" fill="#1a1a1a" text-anchor="end">8000</text>
<text x="586.6" y="596.0" font-size="15.4" fill="#1a1a1a">0</text>
<text x="586.6" y="565.8" font-size="15.4" fill="#1a1a1a">20</text>
<text x="586.6" y="535.6" font-size="15.4" fill="#1a1a1a">40</text>
<text x="586.6" y="505.4" font-size="15.4" fill="#1a1a1a">60</text>
<text x="586.6" y="475.2" font-size="15.4" fill="#1a1a1a">80</text>
<text x="586.6" y="444.9" font-size="15.4" fill="#1a1a1a">100</text>
<text x="586.6" y="414.7" font-size="15.4" fill="#1a1a1a">120</text>
<text x="586.6" y="384.5" font-size="15.4" fill="#1a1a1a">140</text>
<text x="586.6" y="354.3" font-size="15.4" fill="#1a1a1a">160</text>
<text x="586.6" y="324.1" font-size="15.4" fill="#1a1a1a">180</text>
<text x="111.5" y="615.8" font-size="15.4" fill="#1a1a1a" text-anchor="middle">0</text>
<text x="247.5" y="615.8" font-size="15.4" fill="#1a1a1a" text-anchor="middle">5</text>
<text x="383.5" y="615.8" font-size="15.4" fill="#1a1a1a" text-anchor="middle">10</text>
<text x="519.5" y="615.8" font-size="15.4" fill="#1a1a1a" text-anchor="middle">15</text>
<text x="339.6" y="640.2" font-size="15" font-weight="bold" fill="#111" text-anchor="middle">Time (h)</text>
<text transform="translate(48.1,468.5) rotate(-90)" font-size="15.7" font-weight="bold" fill="#111" text-anchor="middle">Feret's Diameter</text>
<text transform="translate(641,467.2) rotate(-90)" font-size="15" font-weight="bold" fill="#111" text-anchor="middle" letter-spacing="-0.27">Fluorescence (greyscale)</text>
<clipPath id="plotclip"><rect x="109.5" y="319.1" width="465.8" height="273.9"/></clipPath>
<path clip-path="url(#plotclip)" d="M113.1,578.3C114.3,577.3 118.2,574.8 120.6,572.4C123.0,570.0 125.3,567.0 127.6,564.0C129.9,561.0 132.3,558.2 134.6,554.3C136.9,550.3 139.6,544.4 141.6,540.3C143.6,536.2 144.6,533.2 146.6,529.5C148.6,525.8 151.5,521.5 153.6,518.3C155.7,515.0 157.7,512.4 159.2,510.0C160.7,507.6 160.5,506.6 162.6,503.9C164.7,501.2 168.7,497.5 171.7,493.8C174.7,490.1 177.4,487.0 180.7,481.5C184.0,476.0 188.8,465.6 191.6,461.0C194.4,456.4 195.6,455.9 197.5,453.6C199.4,451.3 200.8,448.6 202.9,447.4C205.0,446.2 208.7,446.7 209.9,446.6L215.5,447.4L218.3,452.2L221.1,460.6L225.3,464.8L230.3,465.6L232.3,455.0L235.1,454.1L235.9,449.4L237.9,446.6L240.1,451.3L243.5,446.6L247.7,447.4L251.9,449.4L255.5,443.8L257.5,442.9L260.6,453.6L265.4,446.6L269.0,462.0L271.8,464.2L275.7,451.3L277.4,453.6L279.4,462.0L283.0,446.6L285.0,445.2L289.2,455.8L292.5,448.0L297.6,457.8L300.9,453.0L307.3,459.2L317.1,464.2L319.9,476.0L323.3,481.5L326.9,496.9L331.1,530.5L333.9,520.7L339.5,484.3L344.5,451.3L348.5,478.7L352.9,498.3L357.7,503.9L361.9,470.3L366.1,441.0L369.7,434.0L373.1,462.0L377.3,487.1L382.9,496.1L387.6,443.8L391.3,446.6L395.5,441.0L396.7,433.2L401.2,428.1L403.6,398.3L407.0,411.0L412.1,402.4L417.3,395.6L420.7,368.9L423.1,376.8L433.3,364.8L437.8,370.9L441.2,372.3L445.7,371.6L448.1,402.4L451.5,403.1L454.9,411.0L459.0,414.4L465.2,359.6L467.6,390.5L473.7,402.4L477.8,405.9L480.6,356.2L484.7,334.0L488.5,324.4L491.5,363.1L496.7,388.1L501.8,387.0L506.6,316.5L510.6,316.5L513.8,325.4L517.2,326.4L520.6,373.3L523.4,372.3L526.8,391.5L529.2,382.6L531.9,383.6L535.4,330.5L537.2,317.5L538.7,317.5L542.9,345.0L546.2,341.0L548.0,331.3L550.4,326.0L551.6,316.5" stroke="#000" stroke-width="3.0" fill="none" stroke-linejoin="round" stroke-linecap="butt"/>
<path d="M141.4,580.5V583.1M137.4,580.5h8.0M137.4,583.1h8.0M146.9,579.4V582.2M142.9,579.4h8.0M142.9,582.2h8.0M149.6,578.5V581.2M145.6,578.5h8.0M145.6,581.2h8.0M152.3,577.2V580.4M148.3,577.2h8.0M148.3,580.4h8.0M155.0,576.3V579.2M151.0,576.3h8.0M151.0,579.2h8.0M157.7,574.9V578.6M153.7,574.9h8.0M153.7,578.6h8.0M160.5,573.0V577.3M156.5,573.0h8.0M156.5,577.3h8.0M163.2,571.3V575.6M159.2,571.3h8.0M159.2,575.6h8.0M165.9,569.3V574.3M161.9,569.3h8.0M161.9,574.3h8.0M168.6,567.4V572.8M164.6,567.4h8.0M164.6,572.8h8.0M171.3,566.7V571.3M167.3,566.7h8.0M167.3,571.3h8.0M174.1,565.1V571.1M170.1,565.1h8.0M170.1,571.1h8.0M176.8,564.2V570.1M172.8,564.2h8.0M172.8,570.1h8.0M179.5,563.4V569.0M175.5,563.4h8.0M175.5,569.0h8.0M182.2,562.6V568.0M178.2,562.6h8.0M178.2,568.0h8.0M184.9,559.8V567.2M180.9,559.8h8.0M180.9,567.2h8.0M187.7,557.5V564.7M183.7,557.5h8.0M183.7,564.7h8.0M190.4,554.6V562.9M186.4,554.6h8.0M186.4,562.9h8.0M193.1,552.2V561.4M189.1,552.2h8.0M189.1,561.4h8.0M195.8,550.8V559.9M191.8,550.8h8.0M191.8,559.9h8.0M198.5,548.8V558.9M194.5,548.8h8.0M194.5,558.9h8.0M201.3,547.9V556.9M197.3,547.9h8.0M197.3,556.9h8.0M204.0,545.6V556.1M200.0,545.6h8.0M200.0,556.1h8.0M206.7,544.3V554.2M202.7,544.3h8.0M202.7,554.2h8.0M209.4,541.7V553.5M205.4,541.7h8.0M205.4,553.5h8.0M212.1,539.9V552.0M208.1,539.9h8.0M208.1,552.0h8.0M214.9,539.4V549.3M210.9,539.4h8.0M210.9,549.3h8.0M217.6,537.6V547.9M213.6,537.6h8.0M213.6,547.9h8.0M220.3,535.9V546.9M216.3,535.9h8.0M216.3,546.9h8.0M223.0,533.0V547.1M219.0,533.0h8.0M219.0,547.1h8.0M225.7,532.5V544.9M221.7,532.5h8.0M221.7,544.9h8.0M228.5,530.6V544.0M224.5,530.6h8.0M224.5,544.0h8.0M231.2,529.7V542.2M227.2,529.7h8.0M227.2,542.2h8.0M233.9,527.8V541.4M229.9,527.8h8.0M229.9,541.4h8.0M236.6,526.5V540.0M232.6,526.5h8.0M232.6,540.0h8.0M239.3,525.1V538.7M235.3,525.1h8.0M235.3,538.7h8.0M242.1,523.0V538.0M238.1,523.0h8.0M238.1,538.0h8.0M244.8,521.5V536.8M240.8,521.5h8.0M240.8,536.8h8.0M247.5,519.0V536.1M243.5,519.0h8.0M243.5,536.1h8.0M250.2,517.7V534.2M246.2,517.7h8.0M246.2,534.2h8.0M252.9,515.2V533.4M248.9,515.2h8.0M248.9,533.4h8.0M255.7,513.6V531.8M251.7,513.6h8.0M251.7,531.8h8.0M258.4,513.3V532.2M254.4,513.3h8.0M254.4,532.2h8.0M261.1,514.4V531.6M257.1,514.4h8.0M257.1,531.6h8.0M263.8,515.9V530.6M259.8,515.9h8.0M259.8,530.6h8.0M266.5,514.5V532.5M262.5,514.5h8.0M262.5,532.5h8.0M269.3,514.4V532.9M265.3,514.4h8.0M265.3,532.9h8.0M272.0,514.7V532.9M268.0,514.7h8.0M268.0,532.9h8.0M274.7,515.7V532.2M270.7,515.7h8.0M270.7,532.2h8.0M277.4,515.5V532.7M273.4,515.5h8.0M273.4,532.7h8.0M280.1,516.1V530.9M276.1,516.1h8.0M276.1,530.9h8.0M282.9,513.7V531.8M278.9,513.7h8.0M278.9,531.8h8.0M285.6,512.4V529.7M281.6,512.4h8.0M281.6,529.7h8.0M288.3,507.7V524.6M284.3,507.7h8.0M284.3,524.6h8.0M291.0,502.9V519.6M287.0,502.9h8.0M287.0,519.6h8.0M293.7,497.3V519.3M289.7,497.3h8.0M289.7,519.3h8.0M296.5,494.8V518.2M292.5,494.8h8.0M292.5,518.2h8.0M299.2,495.5V513.8M295.2,495.5h8.0M295.2,513.8h8.0M301.9,492.2V515.1M297.9,492.2h8.0M297.9,515.1h8.0M304.6,492.9V513.5M300.6,492.9h8.0M300.6,513.5h8.0M307.3,493.2V512.2M303.3,493.2h8.0M303.3,512.2h8.0M310.1,493.2V513.0M306.1,493.2h8.0M306.1,513.0h8.0M312.8,493.0V515.6M308.8,493.0h8.0M308.8,515.6h8.0M315.5,494.0V516.9M311.5,494.0h8.0M311.5,516.9h8.0M318.2,497.5V515.1M314.2,497.5h8.0M314.2,515.1h8.0M320.9,496.2V517.2M316.9,496.2h8.0M316.9,517.2h8.0M323.7,498.3V515.8M319.7,498.3h8.0M319.7,515.8h8.0M326.4,497.7V518.9M322.4,497.7h8.0M322.4,518.9h8.0M329.1,502.3V520.5M325.1,502.3h8.0M325.1,520.5h8.0M331.8,502.1V523.1M327.8,502.1h8.0M327.8,523.1h8.0M334.5,498.8V521.1M330.5,498.8h8.0M330.5,521.1h8.0M337.3,502.5V521.5M333.3,502.5h8.0M333.3,521.5h8.0M340.0,502.5V524.1M336.0,502.5h8.0M336.0,524.1h8.0M342.7,501.9V520.1M338.7,501.9h8.0M338.7,520.1h8.0M345.4,500.3V517.6M341.4,500.3h8.0M341.4,517.6h8.0M348.1,498.1V518.6M344.1,498.1h8.0M344.1,518.6h8.0M350.9,499.2V516.4M346.9,499.2h8.0M346.9,516.4h8.0M353.6,498.2V516.5M349.6,498.2h8.0M349.6,516.5h8.0M356.3,500.2V519.2M352.3,500.2h8.0M352.3,519.2h8.0M359.0,499.7V519.9M355.0,499.7h8.0M355.0,519.9h8.0M361.7,498.7V516.7M357.7,498.7h8.0M357.7,516.7h8.0M364.5,496.6V514.4M360.5,496.6h8.0M360.5,514.4h8.0M367.2,493.2V516.3M363.2,493.2h8.0M363.2,516.3h8.0M369.9,494.2V514.0M365.9,494.2h8.0M365.9,514.0h8.0M372.6,491.5V515.5M368.6,491.5h8.0M368.6,515.5h8.0M375.3,492.8V516.1M371.3,492.8h8.0M371.3,516.1h8.0M378.1,495.8V515.6M374.1,495.8h8.0M374.1,515.6h8.0M380.8,497.0V517.0M376.8,497.0h8.0M376.8,517.0h8.0M383.5,498.1V518.1M379.5,498.1h8.0M379.5,518.1h8.0M386.2,498.9V519.5M382.2,498.9h8.0M382.2,519.5h8.0M388.9,503.6V522.9M384.9,503.6h8.0M384.9,522.9h8.0M391.7,504.5V523.4M387.7,504.5h8.0M387.7,523.4h8.0M394.4,502.2V521.9M390.4,502.2h8.0M390.4,521.9h8.0M397.1,500.4V522.2M393.1,500.4h8.0M393.1,522.2h8.0M399.8,501.7V520.9M395.8,501.7h8.0M395.8,520.9h8.0M402.5,501.9V520.7M398.5,501.9h8.0M398.5,520.7h8.0M405.3,501.1V521.5M401.3,501.1h8.0M401.3,521.5h8.0M408.0,502.9V520.5M404.0,502.9h8.0M404.0,520.5h8.0M410.7,503.1V521.0M406.7,503.1h8.0M406.7,521.0h8.0M413.4,501.6V523.2M409.4,501.6h8.0M409.4,523.2h8.0M416.1,503.3V522.2M412.1,503.3h8.0M412.1,522.2h8.0M418.9,503.4V522.5M414.9,503.4h8.0M414.9,522.5h8.0M421.6,505.1V521.1M417.6,505.1h8.0M417.6,521.1h8.0M424.3,504.2V522.5M420.3,504.2h8.0M420.3,522.5h8.0M427.0,504.0V523.1M423.0,504.0h8.0M423.0,523.1h8.0M429.7,505.9V521.8M425.7,505.9h8.0M425.7,521.8h8.0M432.5,505.0V524.0M428.5,505.0h8.0M428.5,524.0h8.0M435.2,505.7V524.7M431.2,505.7h8.0M431.2,524.7h8.0M437.9,506.3V522.3M433.9,506.3h8.0M433.9,522.3h8.0M440.6,502.9V522.5M436.6,502.9h8.0M436.6,522.5h8.0M443.3,501.5V520.6M439.3,501.5h8.0M439.3,520.6h8.0M446.1,500.4V520.8M442.1,500.4h8.0M442.1,520.8h8.0M448.8,501.9V520.3M444.8,501.9h8.0M444.8,520.3h8.0M451.5,501.5V521.8M447.5,501.5h8.0M447.5,521.8h8.0M454.2,501.5V522.0M450.2,501.5h8.0M450.2,522.0h8.0M456.9,502.7V519.2M452.9,502.7h8.0M452.9,519.2h8.0M459.7,501.8V518.7M455.7,501.8h8.0M455.7,518.7h8.0M462.4,499.2V519.8M458.4,499.2h8.0M458.4,519.8h8.0M465.1,497.9V520.4M461.1,497.9h8.0M461.1,520.4h8.0M467.8,499.9V518.1M463.8,499.9h8.0M463.8,518.1h8.0M470.5,499.1V518.7M466.5,499.1h8.0M466.5,518.7h8.0M473.3,498.6V519.0M469.3,498.6h8.0M469.3,519.0h8.0M476.0,499.3V518.0M472.0,499.3h8.0M472.0,518.0h8.0M478.7,498.5V517.7M474.7,498.5h8.0M474.7,517.7h8.0M481.4,497.6V516.7M477.4,497.6h8.0M477.4,516.7h8.0M484.1,496.4V516.0M480.1,496.4h8.0M480.1,516.0h8.0M486.9,494.7V515.9M482.9,494.7h8.0M482.9,515.9h8.0M489.6,497.2V516.3M485.6,497.2h8.0M485.6,516.3h8.0M492.3,499.3V518.3M488.3,499.3h8.0M488.3,518.3h8.0M495.0,499.0V520.2M491.0,499.0h8.0M491.0,520.2h8.0M497.7,498.1V515.5M493.7,498.1h8.0M493.7,515.5h8.0M500.5,496.9V517.5M496.5,496.9h8.0M496.5,517.5h8.0M503.2,502.5V522.7M499.2,502.5h8.0M499.2,522.7h8.0M505.9,505.4V522.8M501.9,505.4h8.0M501.9,522.8h8.0M508.6,502.6V520.2M504.6,502.6h8.0M504.6,520.2h8.0M511.3,497.8V519.5M507.3,497.8h8.0M507.3,519.5h8.0M514.1,498.8V517.3M510.1,498.8h8.0M510.1,517.3h8.0M516.8,498.4V516.6M512.8,498.4h8.0M512.8,516.6h8.0M519.5,497.0V516.8M515.5,497.0h8.0M515.5,516.8h8.0M522.2,497.3V518.5M518.2,497.3h8.0M518.2,518.5h8.0M524.9,500.7V518.0M520.9,500.7h8.0M520.9,518.0h8.0M527.7,503.5V521.4M523.7,503.5h8.0M523.7,521.4h8.0M530.4,510.2V526.8M526.4,510.2h8.0M526.4,526.8h8.0M533.1,503.9V524.3M529.1,503.9h8.0M529.1,524.3h8.0M535.8,501.0V520.0M531.8,501.0h8.0M531.8,520.0h8.0M538.5,501.3V522.4M534.5,501.3h8.0M534.5,522.4h8.0M541.3,499.3V517.2M537.3,499.3h8.0M537.3,517.2h8.0M544.0,500.2V518.9M540.0,500.2h8.0M540.0,518.9h8.0M546.7,500.4V520.7M542.7,500.4h8.0M542.7,520.7h8.0M549.4,495.6V518.2M545.4,495.6h8.0M545.4,518.2h8.0M552.1,495.1V515.5M548.1,495.1h8.0M548.1,515.5h8.0M554.9,496.2V515.1M550.9,496.2h8.0M550.9,515.1h8.0M557.6,495.2V513.7M553.6,495.2h8.0M553.6,513.7h8.0M560.3,491.5V513.0M556.3,491.5h8.0M556.3,513.0h8.0M563.0,493.0V512.3M559.0,493.0h8.0M559.0,512.3h8.0M565.7,490.5V513.8M561.7,490.5h8.0M561.7,513.8h8.0M568.5,488.1V512.2M564.5,488.1h8.0M564.5,512.2h8.0M571.2,490.9V510.6M567.2,490.9h8.0M567.2,510.6h8.0" stroke="#a3a3a3" stroke-width="1.1" fill="none"/>
<path d="M111.5,579.6L114.2,580.8L116.9,581.9L119.7,583.0L122.4,583.6L125.1,584.3L127.8,584.7L130.5,584.1L133.3,583.4L136.0,582.8L138.7,582.3L141.4,581.8L144.1,581.3L146.9,580.8L149.6,579.8L152.3,578.8L155.0,577.8L157.7,576.7L160.5,575.1L163.2,573.5L165.9,571.8L168.6,570.1L171.3,569.0L174.1,568.1L176.8,567.1L179.5,566.2L182.2,564.8L184.9,563.8L187.7,560.8L190.4,558.5L193.1,557.3L195.8,555.7L198.5,553.7L201.3,552.9L204.0,550.9L206.7,549.4L209.4,547.3L212.1,546.4L214.9,544.5L217.6,543.2L220.3,541.8L223.0,539.8L225.7,538.5L228.5,537.0L231.2,535.6L233.9,534.2L236.6,533.0L239.3,532.0L242.1,530.0L244.8,529.3L247.5,527.4L250.2,525.7L252.9,524.6L255.7,522.7L258.4,522.5L261.1,523.0L263.8,523.4L266.5,523.0L269.3,524.1L272.0,523.3L274.7,524.2L277.4,524.4L280.1,523.0L282.9,523.0L285.6,520.8L288.3,516.3L291.0,510.4L293.7,507.5L296.5,505.9L299.2,505.5L301.9,503.1L304.6,503.6L307.3,503.5L310.1,503.9L312.8,504.0L315.5,505.2L318.2,506.4L320.9,507.2L323.7,506.4L326.4,508.8L329.1,511.9L331.8,513.3L334.5,509.1L337.3,512.8L340.0,512.6L342.7,510.7L345.4,509.1L348.1,509.1L350.9,507.5L353.6,508.1L356.3,509.8L359.0,509.5L361.7,507.3L364.5,504.9L367.2,504.0L369.9,503.5L372.6,503.8L375.3,505.3L378.1,505.1L380.8,506.2L383.5,509.0L386.2,509.2L388.9,513.1L391.7,513.4L394.4,512.2L397.1,511.9L399.8,511.2L402.5,511.2L405.3,510.5L408.0,512.4L410.7,511.2L413.4,512.4L416.1,513.4L418.9,512.3L421.6,513.6L424.3,514.2L427.0,513.8L429.7,514.4L432.5,513.8L435.2,515.1L437.9,513.7L440.6,513.3L443.3,510.7L446.1,510.5L448.8,512.0L451.5,512.3L454.2,512.6L456.9,510.9L459.7,510.2L462.4,509.9L465.1,509.1L467.8,508.6L470.5,508.7L473.3,508.1L476.0,508.4L478.7,509.0L481.4,508.0L484.1,506.4L486.9,505.3L489.6,506.5L492.3,508.1L495.0,509.2L497.7,507.3L500.5,507.9L503.2,512.3L505.9,514.6L508.6,511.9L511.3,509.0L514.1,508.3L516.8,507.9L519.5,506.7L522.2,508.3L524.9,508.9L527.7,512.4L530.4,519.0L533.1,514.4L535.8,510.1L538.5,512.7L541.3,508.5L544.0,509.7L546.7,509.7L549.4,507.0L552.1,504.8L554.9,506.0L557.6,504.4L560.3,502.8L563.0,502.9L565.7,502.7L568.5,499.9L571.2,501.0L573.2,501.0L573.4,591.3" stroke="#7c7c7c" stroke-width="3.6" fill="none" stroke-linejoin="round"/>
<defs><filter id="sh" x="-50%" y="-20%" width="200%" height="140%"><feGaussianBlur in="SourceAlpha" stdDeviation="1.2"/><feOffset dx="0" dy="0.8" result="b"/><feComponentTransfer><feFuncA type="linear" slope="0.35"/></feComponentTransfer><feMerge><feMergeNode/><feMergeNode in="SourceGraphic"/></feMerge></filter></defs>
<g filter="url(#sh)" stroke="#383838" stroke-width="4.3" fill="none">
<path d="M146.6,461.0V509.4" stroke-linecap="butt"/>
<path d="M139.4,498.1L146.6,510.0L153.8,498.1" stroke-linecap="round" stroke-linejoin="miter" stroke-miterlimit="10"/>
<path d="M211.9,369.3V418.4" stroke-linecap="butt"/>
<path d="M204.7,407.1L211.9,419.0L219.1,407.1" stroke-linecap="round" stroke-linejoin="miter" stroke-miterlimit="10"/>
<path d="M342.7,380.3V429.0" stroke-linecap="butt"/>
<path d="M335.5,417.7L342.7,429.6L349.9,417.7" stroke-linecap="round" stroke-linejoin="miter" stroke-miterlimit="10"/>
<path d="M555.5,412.4V460.8" stroke-linecap="butt"/>
<path d="M548.3,449.5L555.5,461.4L562.7,449.5" stroke-linecap="round" stroke-linejoin="miter" stroke-miterlimit="10"/>
</g>
</svg></body></html>
